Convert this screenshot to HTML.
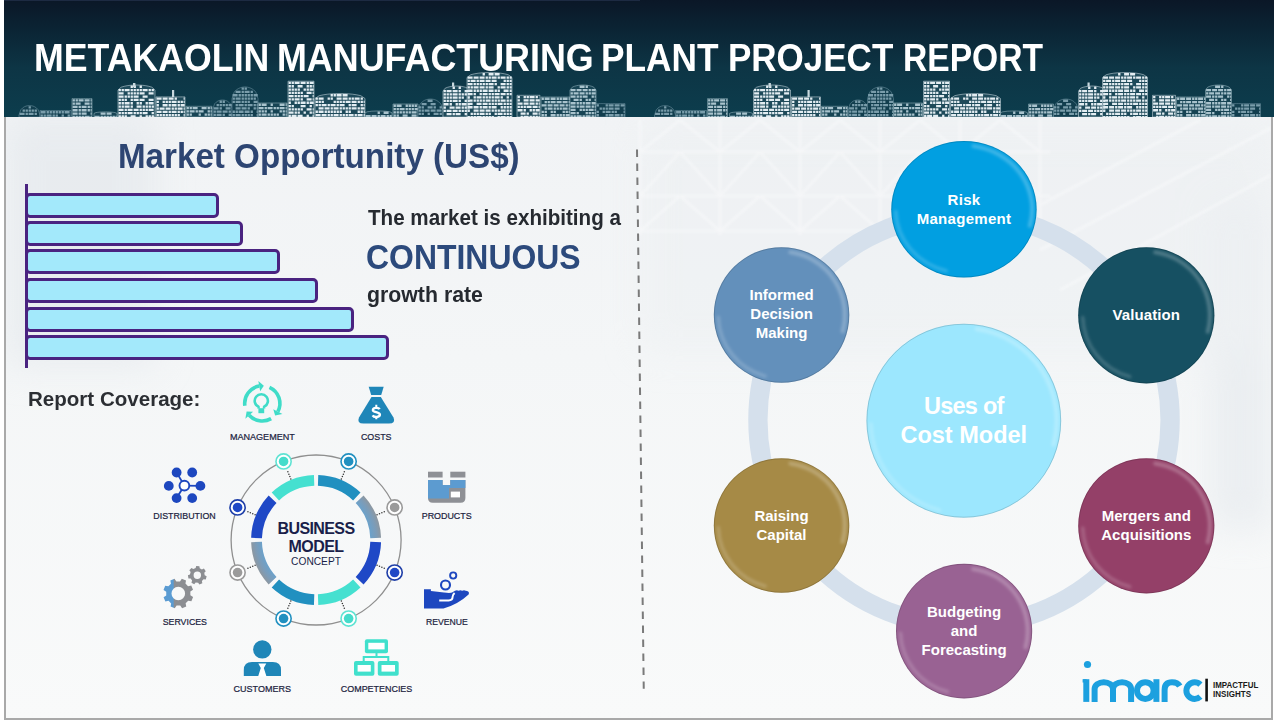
<!DOCTYPE html>
<html><head><meta charset="utf-8">
<style>
*{margin:0;padding:0;box-sizing:border-box}
html,body{width:1280px;height:720px;overflow:hidden;background:#fff;font-family:"Liberation Sans",sans-serif}
.abs{position:absolute}
#content{position:absolute;left:6px;top:117px;width:1265px;height:601px;background:#f3f5f8;overflow:hidden}
#frameL{position:absolute;left:4px;top:117px;width:2px;height:603px;background:#a9a9a9}
#frameR{position:absolute;left:1271px;top:117px;width:2px;height:603px;background:#a9a9a9}
#frameB{position:absolute;left:4px;top:718px;width:1269px;height:2px;background:#a9a9a9}
#header{position:absolute;left:4px;top:0;width:1270px;height:117px;background:linear-gradient(180deg,#0b1727 0%,#0b2434 25%,#0d3545 58%,#0c3d4d 100%);overflow:hidden}
.t{position:absolute;white-space:nowrap;line-height:1;transform-origin:0 0}
.bar{position:absolute;left:25px;height:25px;background:#a3e9fb;border:3px solid #4a2380;border-radius:5px}
.lbl{position:absolute;font-size:9.4px;color:#1e2044;white-space:nowrap;line-height:1;letter-spacing:-0.25px}
.circ{position:absolute;border-radius:50%;box-shadow:inset -3px 3px 3px -1px rgba(255,255,255,0.22), inset 3px -3px 3px -1px rgba(255,255,255,0.16), 0 0 0 0.8px rgba(0,0,0,0.22)}
.ct{position:absolute;color:#fff;font-weight:bold;font-size:15px;line-height:19.2px;text-align:center;white-space:nowrap;transform:translateX(-50%);letter-spacing:0}
</style></head><body>
<div id="content">
<svg class="abs" style="left:0;top:0" width="1265" height="601" viewBox="6 117 1265 601">
  <defs>
    <linearGradient id="bgv" x1="0" y1="117" x2="0" y2="718" gradientUnits="userSpaceOnUse">
      <stop offset="0" stop-color="#f1f3f5"/>
      <stop offset="0.4" stop-color="#f4f6f7"/>
      <stop offset="1" stop-color="#f9fafa"/>
    </linearGradient>
    <filter id="bl" x="-10%" y="-10%" width="120%" height="120%"><feGaussianBlur stdDeviation="0.9"/></filter>
    <filter id="bl2" x="-50%" y="-50%" width="200%" height="200%"><feGaussianBlur stdDeviation="18"/></filter>
  </defs>
  <rect x="6" y="117" width="1265" height="601" fill="url(#bgv)"/>
  <g filter="url(#bl2)" opacity="0.5">
    <rect x="6" y="117" width="150" height="250" fill="#dfe4e9"/>
    <rect x="1210" y="200" width="61" height="330" fill="#e0e5ea"/>
    <rect x="640" y="125" width="630" height="230" fill="#e8ecef" opacity="0.7"/>
  </g>
<g stroke="#fafbfc" stroke-width="2.6" opacity="0.5" filter="url(#bl)"><line x1="640" y1="152" x2="1050" y2="152"/><line x1="640" y1="196" x2="1050" y2="196"/><line x1="640" y1="231" x2="1050" y2="231"/><line x1="640" y1="152" x2="680" y2="120"/><line x1="680" y1="120" x2="720" y2="152"/><line x1="720" y1="152" x2="760" y2="120"/><line x1="760" y1="120" x2="800" y2="152"/><line x1="800" y1="152" x2="840" y2="120"/><line x1="840" y1="120" x2="880" y2="152"/><line x1="880" y1="152" x2="920" y2="120"/><line x1="920" y1="120" x2="960" y2="152"/><line x1="960" y1="152" x2="1000" y2="120"/><line x1="1000" y1="120" x2="1040" y2="152"/><line x1="640" y1="196" x2="680" y2="152"/><line x1="680" y1="152" x2="720" y2="196"/><line x1="720" y1="196" x2="760" y2="152"/><line x1="760" y1="152" x2="800" y2="196"/><line x1="800" y1="196" x2="840" y2="152"/><line x1="840" y1="152" x2="880" y2="196"/><line x1="880" y1="196" x2="920" y2="152"/><line x1="920" y1="152" x2="960" y2="196"/><line x1="960" y1="196" x2="1000" y2="152"/><line x1="1000" y1="152" x2="1040" y2="196"/><line x1="640" y1="231" x2="680" y2="196"/><line x1="680" y1="196" x2="720" y2="231"/><line x1="720" y1="231" x2="760" y2="196"/><line x1="760" y1="196" x2="800" y2="231"/><line x1="800" y1="231" x2="840" y2="196"/><line x1="840" y1="196" x2="880" y2="231"/><line x1="880" y1="231" x2="920" y2="196"/><line x1="920" y1="196" x2="960" y2="231"/><line x1="960" y1="231" x2="1000" y2="196"/><line x1="1000" y1="196" x2="1040" y2="231"/><line x1="640" y1="120" x2="640" y2="235"/><line x1="720" y1="120" x2="720" y2="235"/><line x1="800" y1="120" x2="800" y2="235"/><line x1="880" y1="120" x2="880" y2="235"/><line x1="960" y1="120" x2="960" y2="235"/><line x1="1040" y1="120" x2="1040" y2="235"/><line x1="1040" y1="250" x2="1271" y2="128"/><line x1="1040" y1="205" x2="1200" y2="120"/><line x1="1060" y1="290" x2="1271" y2="175"/></g>
</svg>
</div>
<div id="frameL"></div><div id="frameR"></div><div id="frameB"></div>
<div id="header">
  <svg id="sky" class="abs" style="left:0;top:0" width="1270" height="117" viewBox="4 0 1270 117">
<g id="sk">
<path d="M19,117 L19.0,115.0 L20.8,109.8 L22.5,108.0 L24.2,106.9 L26.0,106.1 L27.8,105.7 L29.5,105.6 L31.2,105.7 L33.0,106.1 L34.8,106.9 L36.5,108.0 L38.2,109.8 L40.0,115.0 L40,117 Z" fill="#123e4e" stroke="#7a9dab" stroke-opacity="0.55" stroke-width="0.9"/>
<path d="M40,117 L40.0,110.5 L42.6,110.5 L45.2,110.5 L47.8,110.5 L50.3,110.5 L52.9,110.5 L55.5,110.5 L58.1,110.5 L60.7,110.5 L63.2,110.5 L65.8,110.5 L68.4,110.5 L71.0,110.5 L71,117 Z" fill="#123e4e" stroke="#7a9dab" stroke-opacity="0.55" stroke-width="0.9"/>
<path d="M72,117 L72.0,98.6 L73.7,98.6 L75.3,98.6 L77.0,98.6 L78.7,98.6 L80.3,98.6 L82.0,98.6 L83.7,98.6 L85.3,98.6 L87.0,98.6 L88.7,98.6 L90.3,98.6 L92.0,98.6 L92,117 Z" fill="#174454" stroke="#a9c3cd" stroke-opacity="0.55" stroke-width="0.9"/>
<path d="M94,117 L94.0,113.4 L95.9,112.6 L97.8,112.3 L99.8,112.1 L101.7,112.0 L103.6,111.9 L105.5,111.9 L107.4,111.9 L109.3,112.0 L111.2,112.1 L113.2,112.3 L115.1,112.6 L117.0,113.4 L117,117 Z" fill="#174454" stroke="#a9c3cd" stroke-opacity="0.55" stroke-width="0.9"/>
<path d="M118,117 L118.0,90.0 L121.1,87.2 L124.2,86.3 L127.2,85.7 L130.3,85.3 L133.4,85.1 L136.5,85.0 L139.6,85.1 L142.7,85.3 L145.8,85.7 L148.8,86.3 L151.9,87.2 L155.0,90.0 L155,117 Z" fill="#1e4a5a" stroke="#e3edf2" stroke-opacity="0.55" stroke-width="0.9"/>
<path d="M156,117 L156.0,96.9 L158.4,96.9 L160.8,96.9 L163.2,96.9 L165.7,96.9 L168.1,96.9 L170.5,96.9 L172.9,96.9 L175.3,96.9 L177.8,96.9 L180.2,96.9 L182.6,96.9 L185.0,96.9 L185,117 Z" fill="#1e4a5a" stroke="#e3edf2" stroke-opacity="0.55" stroke-width="0.9"/>
<path d="M186,117 L186.0,106.3 L188.2,106.3 L190.3,106.3 L192.5,106.3 L194.7,106.3 L196.8,106.3 L199.0,106.3 L201.2,106.3 L203.3,106.3 L205.5,106.3 L207.7,106.3 L209.8,106.3 L212.0,106.3 L212,117 Z" fill="#174454" stroke="#a9c3cd" stroke-opacity="0.55" stroke-width="0.9"/>
<path d="M213,117 L213.0,108.5 L214.6,103.8 L216.2,102.2 L217.8,101.1 L219.3,100.5 L220.9,100.1 L222.5,100.0 L224.1,100.1 L225.7,100.5 L227.2,101.1 L228.8,102.2 L230.4,103.8 L232.0,108.5 L232,117 Z" fill="#123e4e" stroke="#7a9dab" stroke-opacity="0.55" stroke-width="0.9"/>
<path d="M232,117 L232.0,98.6 L234.2,92.1 L236.3,89.9 L238.5,88.5 L240.7,87.6 L242.8,87.1 L245.0,86.9 L247.2,87.1 L249.3,87.6 L251.5,88.5 L253.7,89.9 L255.8,92.1 L258.0,98.6 L258,117 Z" fill="#123e4e" stroke="#7a9dab" stroke-opacity="0.55" stroke-width="0.9"/>
<path d="M258,117 L258.0,103.0 L260.4,103.0 L262.8,103.0 L265.2,103.0 L267.7,103.0 L270.1,103.0 L272.5,103.0 L274.9,103.0 L277.3,103.0 L279.8,103.0 L282.2,103.0 L284.6,103.0 L287.0,103.0 L287,117 Z" fill="#174454" stroke="#a9c3cd" stroke-opacity="0.55" stroke-width="0.9"/>
<path d="M288,117 L288.0,81.2 L290.2,81.2 L292.3,81.2 L294.5,81.2 L296.7,81.2 L298.8,81.2 L301.0,81.2 L303.2,81.2 L305.3,81.2 L307.5,81.2 L309.7,81.2 L311.8,81.2 L314.0,81.2 L314,117 Z" fill="#1e4a5a" stroke="#e3edf2" stroke-opacity="0.55" stroke-width="0.9"/>
<path d="M315,117 L315.0,98.5 L319.2,95.7 L323.3,94.8 L327.5,94.2 L331.7,93.8 L335.8,93.6 L340.0,93.5 L344.2,93.6 L348.3,93.8 L352.5,94.2 L356.7,94.8 L360.8,95.7 L365.0,98.5 L365,117 Z" fill="#1e4a5a" stroke="#e3edf2" stroke-opacity="0.55" stroke-width="0.9"/>
<path d="M365,117 L365.0,112.8 L367.2,111.8 L369.5,111.5 L371.8,111.2 L374.0,111.1 L376.2,111.0 L378.5,111.0 L380.8,111.0 L383.0,111.1 L385.2,111.2 L387.5,111.5 L389.8,111.8 L392.0,112.8 L392,117 Z" fill="#174454" stroke="#a9c3cd" stroke-opacity="0.55" stroke-width="0.9"/>
<path d="M393,117 L393.0,104.0 L395.1,104.0 L397.2,104.0 L399.2,104.0 L401.3,104.0 L403.4,104.0 L405.5,104.0 L407.6,104.0 L409.7,104.0 L411.8,104.0 L413.8,104.0 L415.9,104.0 L418.0,104.0 L418,117 Z" fill="#174454" stroke="#a9c3cd" stroke-opacity="0.55" stroke-width="0.9"/>
<path d="M418,117 L418.0,110.2 L420.1,104.0 L422.2,101.9 L424.2,100.5 L426.3,99.6 L428.4,99.2 L430.5,99.0 L432.6,99.2 L434.7,99.6 L436.8,100.5 L438.8,101.9 L440.9,104.0 L443.0,110.2 L443,117 Z" fill="#123e4e" stroke="#7a9dab" stroke-opacity="0.55" stroke-width="0.9"/>
<path d="M443,117 L443.0,91.0 L445.2,88.2 L447.5,87.3 L449.8,86.7 L452.0,86.3 L454.2,86.1 L456.5,86.0 L458.8,86.1 L461.0,86.3 L463.2,86.7 L465.5,87.3 L467.8,88.2 L470.0,91.0 L470,117 Z" fill="#1e4a5a" stroke="#e3edf2" stroke-opacity="0.55" stroke-width="0.9"/>
<path d="M467,117 L467.0,77.5 L470.8,74.7 L474.5,73.8 L478.2,73.2 L482.0,72.8 L485.8,72.6 L489.5,72.5 L493.2,72.6 L497.0,72.8 L500.8,73.2 L504.5,73.8 L508.2,74.7 L512.0,77.5 L512,117 Z" fill="#1e4a5a" stroke="#e3edf2" stroke-opacity="0.55" stroke-width="0.9"/>
<path d="M517,117 L517.0,95.3 L518.9,95.3 L520.8,95.3 L522.8,95.3 L524.7,95.3 L526.6,95.3 L528.5,95.3 L530.4,95.3 L532.3,95.3 L534.2,95.3 L536.2,95.3 L538.1,95.3 L540.0,95.3 L540,117 Z" fill="#1e4a5a" stroke="#e3edf2" stroke-opacity="0.55" stroke-width="0.9"/>
<path d="M541,117 L541.0,97.0 L543.4,97.0 L545.8,97.0 L548.2,97.0 L550.7,97.0 L553.1,97.0 L555.5,97.0 L557.9,97.0 L560.3,97.0 L562.8,97.0 L565.2,97.0 L567.6,97.0 L570.0,97.0 L570,117 Z" fill="#174454" stroke="#a9c3cd" stroke-opacity="0.55" stroke-width="0.9"/>
<path d="M570,117 L570.0,90.0 L572.2,87.2 L574.3,86.3 L576.5,85.7 L578.7,85.3 L580.8,85.1 L583.0,85.0 L585.2,85.1 L587.3,85.3 L589.5,85.7 L591.7,86.3 L593.8,87.2 L596.0,90.0 L596,117 Z" fill="#174454" stroke="#a9c3cd" stroke-opacity="0.55" stroke-width="0.9"/>
<path d="M596,117 L596.0,103.6 L598.4,103.6 L600.8,103.6 L603.2,103.6 L605.7,103.6 L608.1,103.6 L610.5,103.6 L612.9,103.6 L615.3,103.6 L617.8,103.6 L620.2,103.6 L622.6,103.6 L625.0,103.6 L625,117 Z" fill="#123e4e" stroke="#7a9dab" stroke-opacity="0.55" stroke-width="0.9"/>
<path fill="#7a9dab" d="M28.6,106.2h2.3v2.3h-2.3zM22.6,109.5h2.3v2.3h-2.3zM25.6,109.5h2.3v2.3h-2.3zM28.6,109.5h2.3v2.3h-2.3zM31.6,109.5h2.3v2.3h-2.3zM34.6,109.5h2.3v2.3h-2.3zM19.6,112.8h5.0v2.3h-5.0zM25.6,112.8h2.3v2.3h-2.3zM28.6,112.8h5.0v2.3h-5.0zM34.6,112.8h2.3v2.3h-2.3zM40.6,111.1h5.0v2.3h-5.0zM46.6,111.1h2.3v2.3h-2.3zM49.6,111.1h2.3v2.3h-2.3zM52.6,111.1h2.3v2.3h-2.3zM55.6,111.1h2.3v2.3h-2.3zM58.6,111.1h2.3v2.3h-2.3zM61.6,111.1h2.3v2.3h-2.3zM64.6,111.1h5.0v2.3h-5.0zM40.6,114.4h2.3v2.3h-2.3zM43.6,114.4h2.3v2.3h-2.3zM46.6,114.4h5.0v2.3h-5.0zM52.6,114.4h2.3v2.3h-2.3zM55.6,114.4h2.3v2.3h-2.3zM61.6,114.4h2.3v2.3h-2.3zM67.6,114.4h2.3v2.3h-2.3zM219.6,100.6h2.3v2.3h-2.3zM222.6,100.6h2.3v2.3h-2.3zM216.6,103.9h2.3v2.3h-2.3zM219.6,103.9h2.3v2.3h-2.3zM222.6,103.9h2.3v2.3h-2.3zM225.6,103.9h2.3v2.3h-2.3zM228.6,103.9h3.1v2.3h-3.1zM213.6,107.2h5.0v2.3h-5.0zM219.6,107.2h2.3v2.3h-2.3zM225.6,107.2h5.0v2.3h-5.0zM213.6,110.5h2.3v2.3h-2.3zM216.6,110.5h5.0v2.3h-5.0zM222.6,110.5h5.0v2.3h-5.0zM228.6,110.5h2.3v2.3h-2.3zM213.6,113.8h2.3v2.3h-2.3zM216.6,113.8h5.0v2.3h-5.0zM222.6,113.8h2.3v2.3h-2.3zM228.6,113.8h3.1v2.3h-3.1zM241.6,87.5h2.3v2.3h-2.3zM244.6,87.5h2.3v2.3h-2.3zM235.6,90.8h5.0v2.3h-5.0zM241.6,90.8h2.3v2.3h-2.3zM244.6,90.8h5.0v2.3h-5.0zM250.6,90.8h2.3v2.3h-2.3zM232.6,94.1h5.0v2.3h-5.0zM238.6,94.1h2.3v2.3h-2.3zM241.6,94.1h2.3v2.3h-2.3zM244.6,94.1h2.3v2.3h-2.3zM247.6,94.1h2.3v2.3h-2.3zM250.6,94.1h2.3v2.3h-2.3zM253.6,94.1h4.1v2.3h-4.1zM232.6,97.4h2.3v2.3h-2.3zM235.6,97.4h5.0v2.3h-5.0zM241.6,97.4h2.3v2.3h-2.3zM244.6,97.4h2.3v2.3h-2.3zM247.6,97.4h2.3v2.3h-2.3zM250.6,97.4h2.3v2.3h-2.3zM253.6,97.4h2.3v2.3h-2.3zM232.6,100.7h2.3v2.3h-2.3zM235.6,100.7h5.0v2.3h-5.0zM241.6,100.7h2.3v2.3h-2.3zM244.6,100.7h2.3v2.3h-2.3zM247.6,100.7h2.3v2.3h-2.3zM253.6,100.7h4.1v2.3h-4.1zM235.6,104.0h2.3v2.3h-2.3zM238.6,104.0h5.0v2.3h-5.0zM244.6,104.0h2.3v2.3h-2.3zM247.6,104.0h5.0v2.3h-5.0zM253.6,104.0h2.3v2.3h-2.3zM256.6,104.0h1.1v2.3h-1.1zM235.6,107.3h5.0v2.3h-5.0zM241.6,107.3h5.0v2.3h-5.0zM247.6,107.3h2.3v2.3h-2.3zM253.6,107.3h2.3v2.3h-2.3zM256.6,107.3h1.1v2.3h-1.1zM232.6,110.6h2.3v2.3h-2.3zM235.6,110.6h2.3v2.3h-2.3zM238.6,110.6h5.0v2.3h-5.0zM244.6,110.6h5.0v2.3h-5.0zM250.6,110.6h2.3v2.3h-2.3zM256.6,110.6h1.1v2.3h-1.1zM232.6,113.9h2.3v2.3h-2.3zM235.6,113.9h5.0v2.3h-5.0zM241.6,113.9h2.3v2.3h-2.3zM244.6,113.9h2.3v2.3h-2.3zM247.6,113.9h2.3v2.3h-2.3zM250.6,113.9h2.3v2.3h-2.3zM256.6,113.9h1.1v2.3h-1.1zM427.6,99.6h5.0v2.3h-5.0zM421.6,102.9h5.0v2.3h-5.0zM430.6,102.9h5.0v2.3h-5.0zM418.6,106.2h2.3v2.3h-2.3zM421.6,106.2h2.3v2.3h-2.3zM427.6,106.2h5.0v2.3h-5.0zM433.6,106.2h2.3v2.3h-2.3zM439.6,106.2h2.3v2.3h-2.3zM418.6,109.5h2.3v2.3h-2.3zM421.6,109.5h2.3v2.3h-2.3zM424.6,109.5h5.0v2.3h-5.0zM430.6,109.5h5.0v2.3h-5.0zM436.6,109.5h5.0v2.3h-5.0zM418.6,112.8h2.3v2.3h-2.3zM421.6,112.8h2.3v2.3h-2.3zM427.6,112.8h2.3v2.3h-2.3zM433.6,112.8h5.0v2.3h-5.0zM439.6,112.8h2.3v2.3h-2.3zM596.6,104.2h2.3v2.3h-2.3zM605.6,104.2h2.3v2.3h-2.3zM608.6,104.2h5.0v2.3h-5.0zM614.6,104.2h5.0v2.3h-5.0zM620.6,104.2h4.1v2.3h-4.1zM599.6,107.5h2.3v2.3h-2.3zM602.6,107.5h2.3v2.3h-2.3zM605.6,107.5h2.3v2.3h-2.3zM608.6,107.5h5.0v2.3h-5.0zM614.6,107.5h5.0v2.3h-5.0zM623.6,107.5h1.1v2.3h-1.1zM596.6,110.8h2.3v2.3h-2.3zM602.6,110.8h2.3v2.3h-2.3zM605.6,110.8h5.0v2.3h-5.0zM611.6,110.8h2.3v2.3h-2.3zM614.6,110.8h2.3v2.3h-2.3zM623.6,110.8h1.1v2.3h-1.1zM596.6,114.1h2.3v2.3h-2.3zM605.6,114.1h2.3v2.3h-2.3zM608.6,114.1h5.0v2.3h-5.0zM614.6,114.1h5.0v2.3h-5.0zM620.6,114.1h2.3v2.3h-2.3zM623.6,114.1h1.1v2.3h-1.1z"/>
<path fill="#a9c3cd" d="M72.6,99.2h2.3v2.3h-2.3zM75.6,99.2h2.3v2.3h-2.3zM78.6,99.2h5.0v2.3h-5.0zM84.6,99.2h5.0v2.3h-5.0zM90.6,99.2h1.1v2.3h-1.1zM72.6,102.5h2.3v2.3h-2.3zM75.6,102.5h5.0v2.3h-5.0zM84.6,102.5h5.0v2.3h-5.0zM90.6,102.5h1.1v2.3h-1.1zM72.6,105.8h5.0v2.3h-5.0zM78.6,105.8h2.3v2.3h-2.3zM81.6,105.8h5.0v2.3h-5.0zM87.6,105.8h2.3v2.3h-2.3zM90.6,105.8h1.1v2.3h-1.1zM72.6,109.1h5.0v2.3h-5.0zM78.6,109.1h2.3v2.3h-2.3zM81.6,109.1h5.0v2.3h-5.0zM87.6,109.1h2.3v2.3h-2.3zM90.6,109.1h1.1v2.3h-1.1zM72.6,112.4h5.0v2.3h-5.0zM78.6,112.4h2.3v2.3h-2.3zM81.6,112.4h5.0v2.3h-5.0zM90.6,112.4h1.1v2.3h-1.1zM72.6,115.7h2.3v2.3h-2.3zM75.6,115.7h2.3v2.3h-2.3zM78.6,115.7h2.3v2.3h-2.3zM81.6,115.7h2.3v2.3h-2.3zM84.6,115.7h5.0v2.3h-5.0zM90.6,115.7h1.1v2.3h-1.1zM100.6,112.5h5.0v2.3h-5.0zM106.6,112.5h5.0v2.3h-5.0zM94.6,115.8h5.0v2.3h-5.0zM100.6,115.8h2.3v2.3h-2.3zM103.6,115.8h2.3v2.3h-2.3zM106.6,115.8h2.3v2.3h-2.3zM109.6,115.8h2.3v2.3h-2.3zM112.6,115.8h2.3v2.3h-2.3zM115.6,115.8h1.1v2.3h-1.1zM186.6,106.9h2.3v2.3h-2.3zM189.6,106.9h2.3v2.3h-2.3zM192.6,106.9h5.0v2.3h-5.0zM201.6,106.9h5.0v2.3h-5.0zM207.6,106.9h2.3v2.3h-2.3zM210.6,106.9h1.1v2.3h-1.1zM186.6,110.2h2.3v2.3h-2.3zM189.6,110.2h5.0v2.3h-5.0zM195.6,110.2h2.3v2.3h-2.3zM198.6,110.2h5.0v2.3h-5.0zM207.6,110.2h2.3v2.3h-2.3zM210.6,110.2h1.1v2.3h-1.1zM186.6,113.5h2.3v2.3h-2.3zM189.6,113.5h2.3v2.3h-2.3zM198.6,113.5h2.3v2.3h-2.3zM204.6,113.5h2.3v2.3h-2.3zM207.6,113.5h2.3v2.3h-2.3zM210.6,113.5h1.1v2.3h-1.1zM258.6,103.6h2.3v2.3h-2.3zM261.6,103.6h5.0v2.3h-5.0zM270.6,103.6h2.3v2.3h-2.3zM279.6,103.6h5.0v2.3h-5.0zM285.6,103.6h1.1v2.3h-1.1zM258.6,106.9h5.0v2.3h-5.0zM264.6,106.9h2.3v2.3h-2.3zM267.6,106.9h5.0v2.3h-5.0zM273.6,106.9h2.3v2.3h-2.3zM276.6,106.9h2.3v2.3h-2.3zM279.6,106.9h5.0v2.3h-5.0zM285.6,106.9h1.1v2.3h-1.1zM258.6,110.2h2.3v2.3h-2.3zM261.6,110.2h2.3v2.3h-2.3zM264.6,110.2h2.3v2.3h-2.3zM270.6,110.2h2.3v2.3h-2.3zM279.6,110.2h2.3v2.3h-2.3zM282.6,110.2h2.3v2.3h-2.3zM285.6,110.2h1.1v2.3h-1.1zM258.6,113.5h2.3v2.3h-2.3zM261.6,113.5h5.0v2.3h-5.0zM267.6,113.5h2.3v2.3h-2.3zM270.6,113.5h2.3v2.3h-2.3zM273.6,113.5h2.3v2.3h-2.3zM276.6,113.5h2.3v2.3h-2.3zM282.6,113.5h2.3v2.3h-2.3zM285.6,113.5h1.1v2.3h-1.1zM377.6,111.6h2.3v2.3h-2.3zM383.6,111.6h5.0v2.3h-5.0zM365.6,114.9h5.0v2.3h-5.0zM371.6,114.9h5.0v2.3h-5.0zM377.6,114.9h2.3v2.3h-2.3zM380.6,114.9h5.0v2.3h-5.0zM386.6,114.9h2.3v2.3h-2.3zM389.6,114.9h2.1v2.3h-2.1zM393.6,104.6h2.3v2.3h-2.3zM396.6,104.6h5.0v2.3h-5.0zM405.6,104.6h2.3v2.3h-2.3zM408.6,104.6h2.3v2.3h-2.3zM411.6,104.6h2.3v2.3h-2.3zM414.6,104.6h2.3v2.3h-2.3zM393.6,107.9h2.3v2.3h-2.3zM396.6,107.9h2.3v2.3h-2.3zM399.6,107.9h5.0v2.3h-5.0zM405.6,107.9h2.3v2.3h-2.3zM408.6,107.9h2.3v2.3h-2.3zM411.6,107.9h2.3v2.3h-2.3zM414.6,107.9h3.1v2.3h-3.1zM393.6,111.2h2.3v2.3h-2.3zM396.6,111.2h2.3v2.3h-2.3zM399.6,111.2h2.3v2.3h-2.3zM402.6,111.2h2.3v2.3h-2.3zM405.6,111.2h2.3v2.3h-2.3zM408.6,111.2h2.3v2.3h-2.3zM411.6,111.2h5.0v2.3h-5.0zM393.6,114.5h2.3v2.3h-2.3zM396.6,114.5h2.3v2.3h-2.3zM402.6,114.5h5.0v2.3h-5.0zM411.6,114.5h5.0v2.3h-5.0zM541.6,97.6h2.3v2.3h-2.3zM544.6,97.6h5.0v2.3h-5.0zM550.6,97.6h5.0v2.3h-5.0zM556.6,97.6h2.3v2.3h-2.3zM559.6,97.6h2.3v2.3h-2.3zM562.6,97.6h5.0v2.3h-5.0zM568.6,97.6h1.1v2.3h-1.1zM544.6,100.9h2.3v2.3h-2.3zM547.6,100.9h2.3v2.3h-2.3zM550.6,100.9h5.0v2.3h-5.0zM556.6,100.9h5.0v2.3h-5.0zM562.6,100.9h5.0v2.3h-5.0zM568.6,100.9h1.1v2.3h-1.1zM541.6,104.2h5.0v2.3h-5.0zM547.6,104.2h5.0v2.3h-5.0zM553.6,104.2h5.0v2.3h-5.0zM559.6,104.2h5.0v2.3h-5.0zM565.6,104.2h2.3v2.3h-2.3zM568.6,104.2h1.1v2.3h-1.1zM544.6,107.5h2.3v2.3h-2.3zM547.6,107.5h5.0v2.3h-5.0zM553.6,107.5h2.3v2.3h-2.3zM556.6,107.5h2.3v2.3h-2.3zM559.6,107.5h2.3v2.3h-2.3zM562.6,107.5h5.0v2.3h-5.0zM568.6,107.5h1.1v2.3h-1.1zM541.6,110.8h2.3v2.3h-2.3zM544.6,110.8h2.3v2.3h-2.3zM550.6,110.8h2.3v2.3h-2.3zM553.6,110.8h2.3v2.3h-2.3zM562.6,110.8h2.3v2.3h-2.3zM565.6,110.8h2.3v2.3h-2.3zM568.6,110.8h1.1v2.3h-1.1zM541.6,114.1h2.3v2.3h-2.3zM544.6,114.1h2.3v2.3h-2.3zM550.6,114.1h5.0v2.3h-5.0zM556.6,114.1h2.3v2.3h-2.3zM559.6,114.1h2.3v2.3h-2.3zM562.6,114.1h2.3v2.3h-2.3zM565.6,114.1h4.1v2.3h-4.1zM579.6,85.6h5.0v2.3h-5.0zM585.6,85.6h2.3v2.3h-2.3zM570.6,88.9h5.0v2.3h-5.0zM576.6,88.9h5.0v2.3h-5.0zM582.6,88.9h5.0v2.3h-5.0zM588.6,88.9h2.3v2.3h-2.3zM591.6,88.9h4.1v2.3h-4.1zM570.6,92.2h2.3v2.3h-2.3zM573.6,92.2h5.0v2.3h-5.0zM579.6,92.2h5.0v2.3h-5.0zM585.6,92.2h2.3v2.3h-2.3zM588.6,92.2h2.3v2.3h-2.3zM591.6,92.2h4.1v2.3h-4.1zM570.6,95.5h5.0v2.3h-5.0zM576.6,95.5h2.3v2.3h-2.3zM579.6,95.5h2.3v2.3h-2.3zM582.6,95.5h5.0v2.3h-5.0zM591.6,95.5h2.3v2.3h-2.3zM594.6,95.5h1.1v2.3h-1.1zM573.6,98.8h5.0v2.3h-5.0zM579.6,98.8h2.3v2.3h-2.3zM585.6,98.8h2.3v2.3h-2.3zM588.6,98.8h2.3v2.3h-2.3zM594.6,98.8h1.1v2.3h-1.1zM570.6,102.1h5.0v2.3h-5.0zM576.6,102.1h2.3v2.3h-2.3zM579.6,102.1h2.3v2.3h-2.3zM582.6,102.1h2.3v2.3h-2.3zM585.6,102.1h5.0v2.3h-5.0zM591.6,102.1h4.1v2.3h-4.1zM570.6,105.4h5.0v2.3h-5.0zM576.6,105.4h2.3v2.3h-2.3zM579.6,105.4h5.0v2.3h-5.0zM585.6,105.4h5.0v2.3h-5.0zM591.6,105.4h2.3v2.3h-2.3zM594.6,105.4h1.1v2.3h-1.1zM570.6,108.7h5.0v2.3h-5.0zM579.6,108.7h2.3v2.3h-2.3zM582.6,108.7h2.3v2.3h-2.3zM585.6,108.7h2.3v2.3h-2.3zM588.6,108.7h5.0v2.3h-5.0zM594.6,108.7h1.1v2.3h-1.1zM570.6,112.0h5.0v2.3h-5.0zM576.6,112.0h2.3v2.3h-2.3zM585.6,112.0h2.3v2.3h-2.3zM588.6,112.0h2.3v2.3h-2.3zM591.6,112.0h2.3v2.3h-2.3zM594.6,112.0h1.1v2.3h-1.1zM570.6,115.3h2.3v2.3h-2.3zM573.6,115.3h2.3v2.3h-2.3zM576.6,115.3h5.0v2.3h-5.0zM582.6,115.3h2.3v2.3h-2.3zM585.6,115.3h5.0v2.3h-5.0zM591.6,115.3h2.3v2.3h-2.3zM594.6,115.3h1.1v2.3h-1.1z"/>
<path fill="#e3edf2" d="M130.6,85.6h2.3v2.3h-2.3zM133.6,85.6h2.3v2.3h-2.3zM139.6,85.6h2.3v2.3h-2.3zM118.6,88.9h2.3v2.3h-2.3zM121.6,88.9h2.3v2.3h-2.3zM124.6,88.9h5.0v2.3h-5.0zM130.6,88.9h2.3v2.3h-2.3zM133.6,88.9h2.3v2.3h-2.3zM136.6,88.9h2.3v2.3h-2.3zM139.6,88.9h2.3v2.3h-2.3zM142.6,88.9h5.0v2.3h-5.0zM148.6,88.9h2.3v2.3h-2.3zM151.6,88.9h2.3v2.3h-2.3zM118.6,92.2h5.0v2.3h-5.0zM127.6,92.2h2.3v2.3h-2.3zM130.6,92.2h2.3v2.3h-2.3zM133.6,92.2h2.3v2.3h-2.3zM136.6,92.2h2.3v2.3h-2.3zM139.6,92.2h5.0v2.3h-5.0zM148.6,92.2h5.0v2.3h-5.0zM118.6,95.5h5.0v2.3h-5.0zM124.6,95.5h2.3v2.3h-2.3zM127.6,95.5h2.3v2.3h-2.3zM130.6,95.5h2.3v2.3h-2.3zM133.6,95.5h5.0v2.3h-5.0zM142.6,95.5h5.0v2.3h-5.0zM118.6,98.8h2.3v2.3h-2.3zM121.6,98.8h2.3v2.3h-2.3zM124.6,98.8h2.3v2.3h-2.3zM130.6,98.8h2.3v2.3h-2.3zM133.6,98.8h5.0v2.3h-5.0zM139.6,98.8h5.0v2.3h-5.0zM148.6,98.8h5.0v2.3h-5.0zM118.6,102.1h2.3v2.3h-2.3zM121.6,102.1h2.3v2.3h-2.3zM124.6,102.1h5.0v2.3h-5.0zM130.6,102.1h2.3v2.3h-2.3zM136.6,102.1h2.3v2.3h-2.3zM139.6,102.1h2.3v2.3h-2.3zM145.6,102.1h2.3v2.3h-2.3zM148.6,102.1h5.0v2.3h-5.0zM118.6,105.4h2.3v2.3h-2.3zM121.6,105.4h2.3v2.3h-2.3zM124.6,105.4h5.0v2.3h-5.0zM130.6,105.4h2.3v2.3h-2.3zM136.6,105.4h5.0v2.3h-5.0zM142.6,105.4h2.3v2.3h-2.3zM145.6,105.4h2.3v2.3h-2.3zM148.6,105.4h2.3v2.3h-2.3zM151.6,105.4h2.3v2.3h-2.3zM118.6,108.7h5.0v2.3h-5.0zM124.6,108.7h2.3v2.3h-2.3zM127.6,108.7h5.0v2.3h-5.0zM133.6,108.7h5.0v2.3h-5.0zM139.6,108.7h2.3v2.3h-2.3zM142.6,108.7h2.3v2.3h-2.3zM145.6,108.7h2.3v2.3h-2.3zM148.6,108.7h5.0v2.3h-5.0zM118.6,112.0h2.3v2.3h-2.3zM121.6,112.0h2.3v2.3h-2.3zM124.6,112.0h2.3v2.3h-2.3zM127.6,112.0h5.0v2.3h-5.0zM133.6,112.0h2.3v2.3h-2.3zM136.6,112.0h2.3v2.3h-2.3zM139.6,112.0h2.3v2.3h-2.3zM142.6,112.0h5.0v2.3h-5.0zM151.6,112.0h2.3v2.3h-2.3zM118.6,115.3h2.3v2.3h-2.3zM121.6,115.3h2.3v2.3h-2.3zM124.6,115.3h2.3v2.3h-2.3zM130.6,115.3h5.0v2.3h-5.0zM139.6,115.3h2.3v2.3h-2.3zM145.6,115.3h2.3v2.3h-2.3zM148.6,115.3h2.3v2.3h-2.3zM151.6,115.3h2.3v2.3h-2.3zM156.6,97.5h5.0v2.3h-5.0zM162.6,97.5h5.0v2.3h-5.0zM168.6,97.5h5.0v2.3h-5.0zM174.6,97.5h2.3v2.3h-2.3zM183.6,97.5h1.1v2.3h-1.1zM156.6,100.8h2.3v2.3h-2.3zM162.6,100.8h2.3v2.3h-2.3zM165.6,100.8h2.3v2.3h-2.3zM168.6,100.8h2.3v2.3h-2.3zM171.6,100.8h5.0v2.3h-5.0zM177.6,100.8h2.3v2.3h-2.3zM180.6,100.8h2.3v2.3h-2.3zM183.6,100.8h1.1v2.3h-1.1zM156.6,104.1h2.3v2.3h-2.3zM162.6,104.1h5.0v2.3h-5.0zM168.6,104.1h2.3v2.3h-2.3zM171.6,104.1h5.0v2.3h-5.0zM177.6,104.1h2.3v2.3h-2.3zM180.6,104.1h4.1v2.3h-4.1zM156.6,107.4h2.3v2.3h-2.3zM159.6,107.4h5.0v2.3h-5.0zM165.6,107.4h5.0v2.3h-5.0zM171.6,107.4h2.3v2.3h-2.3zM174.6,107.4h2.3v2.3h-2.3zM177.6,107.4h5.0v2.3h-5.0zM183.6,107.4h1.1v2.3h-1.1zM156.6,110.7h5.0v2.3h-5.0zM162.6,110.7h5.0v2.3h-5.0zM168.6,110.7h2.3v2.3h-2.3zM171.6,110.7h5.0v2.3h-5.0zM177.6,110.7h2.3v2.3h-2.3zM180.6,110.7h2.3v2.3h-2.3zM183.6,110.7h1.1v2.3h-1.1zM156.6,114.0h2.3v2.3h-2.3zM159.6,114.0h2.3v2.3h-2.3zM162.6,114.0h2.3v2.3h-2.3zM165.6,114.0h2.3v2.3h-2.3zM168.6,114.0h2.3v2.3h-2.3zM171.6,114.0h2.3v2.3h-2.3zM174.6,114.0h2.3v2.3h-2.3zM177.6,114.0h2.3v2.3h-2.3zM183.6,114.0h1.1v2.3h-1.1zM288.6,81.8h2.3v2.3h-2.3zM291.6,81.8h2.3v2.3h-2.3zM294.6,81.8h5.0v2.3h-5.0zM300.6,81.8h5.0v2.3h-5.0zM306.6,81.8h2.3v2.3h-2.3zM309.6,81.8h4.1v2.3h-4.1zM288.6,85.1h2.3v2.3h-2.3zM291.6,85.1h2.3v2.3h-2.3zM297.6,85.1h5.0v2.3h-5.0zM306.6,85.1h2.3v2.3h-2.3zM309.6,85.1h2.3v2.3h-2.3zM312.6,85.1h1.1v2.3h-1.1zM288.6,88.4h2.3v2.3h-2.3zM291.6,88.4h2.3v2.3h-2.3zM294.6,88.4h2.3v2.3h-2.3zM297.6,88.4h2.3v2.3h-2.3zM303.6,88.4h2.3v2.3h-2.3zM306.6,88.4h2.3v2.3h-2.3zM309.6,88.4h4.1v2.3h-4.1zM288.6,91.7h2.3v2.3h-2.3zM291.6,91.7h2.3v2.3h-2.3zM294.6,91.7h2.3v2.3h-2.3zM297.6,91.7h2.3v2.3h-2.3zM300.6,91.7h2.3v2.3h-2.3zM306.6,91.7h5.0v2.3h-5.0zM312.6,91.7h1.1v2.3h-1.1zM288.6,95.0h5.0v2.3h-5.0zM294.6,95.0h2.3v2.3h-2.3zM297.6,95.0h2.3v2.3h-2.3zM300.6,95.0h2.3v2.3h-2.3zM303.6,95.0h5.0v2.3h-5.0zM312.6,95.0h1.1v2.3h-1.1zM288.6,98.3h2.3v2.3h-2.3zM291.6,98.3h2.3v2.3h-2.3zM294.6,98.3h5.0v2.3h-5.0zM300.6,98.3h2.3v2.3h-2.3zM306.6,98.3h5.0v2.3h-5.0zM312.6,98.3h1.1v2.3h-1.1zM288.6,101.6h2.3v2.3h-2.3zM294.6,101.6h2.3v2.3h-2.3zM297.6,101.6h2.3v2.3h-2.3zM300.6,101.6h5.0v2.3h-5.0zM306.6,101.6h2.3v2.3h-2.3zM309.6,101.6h4.1v2.3h-4.1zM288.6,104.9h2.3v2.3h-2.3zM291.6,104.9h2.3v2.3h-2.3zM300.6,104.9h5.0v2.3h-5.0zM309.6,104.9h2.3v2.3h-2.3zM288.6,108.2h2.3v2.3h-2.3zM291.6,108.2h2.3v2.3h-2.3zM294.6,108.2h2.3v2.3h-2.3zM297.6,108.2h2.3v2.3h-2.3zM300.6,108.2h2.3v2.3h-2.3zM306.6,108.2h5.0v2.3h-5.0zM312.6,108.2h1.1v2.3h-1.1zM288.6,111.5h5.0v2.3h-5.0zM294.6,111.5h2.3v2.3h-2.3zM297.6,111.5h2.3v2.3h-2.3zM303.6,111.5h2.3v2.3h-2.3zM309.6,111.5h2.3v2.3h-2.3zM312.6,111.5h1.1v2.3h-1.1zM288.6,114.8h2.3v2.3h-2.3zM291.6,114.8h5.0v2.3h-5.0zM297.6,114.8h5.0v2.3h-5.0zM306.6,114.8h2.3v2.3h-2.3zM312.6,114.8h1.1v2.3h-1.1zM330.6,94.1h2.3v2.3h-2.3zM333.6,94.1h2.3v2.3h-2.3zM336.6,94.1h5.0v2.3h-5.0zM342.6,94.1h5.0v2.3h-5.0zM315.6,97.4h2.3v2.3h-2.3zM318.6,97.4h5.0v2.3h-5.0zM327.6,97.4h2.3v2.3h-2.3zM330.6,97.4h2.3v2.3h-2.3zM336.6,97.4h5.0v2.3h-5.0zM342.6,97.4h5.0v2.3h-5.0zM348.6,97.4h2.3v2.3h-2.3zM351.6,97.4h2.3v2.3h-2.3zM354.6,97.4h5.0v2.3h-5.0zM360.6,97.4h2.3v2.3h-2.3zM315.6,100.7h2.3v2.3h-2.3zM318.6,100.7h2.3v2.3h-2.3zM321.6,100.7h2.3v2.3h-2.3zM333.6,100.7h2.3v2.3h-2.3zM336.6,100.7h2.3v2.3h-2.3zM339.6,100.7h2.3v2.3h-2.3zM342.6,100.7h2.3v2.3h-2.3zM345.6,100.7h5.0v2.3h-5.0zM351.6,100.7h5.0v2.3h-5.0zM357.6,100.7h2.3v2.3h-2.3zM360.6,100.7h2.3v2.3h-2.3zM363.6,100.7h1.1v2.3h-1.1zM315.6,104.0h2.3v2.3h-2.3zM318.6,104.0h2.3v2.3h-2.3zM321.6,104.0h5.0v2.3h-5.0zM327.6,104.0h2.3v2.3h-2.3zM330.6,104.0h5.0v2.3h-5.0zM336.6,104.0h2.3v2.3h-2.3zM339.6,104.0h5.0v2.3h-5.0zM348.6,104.0h2.3v2.3h-2.3zM351.6,104.0h5.0v2.3h-5.0zM360.6,104.0h2.3v2.3h-2.3zM363.6,104.0h1.1v2.3h-1.1zM318.6,107.3h5.0v2.3h-5.0zM324.6,107.3h5.0v2.3h-5.0zM330.6,107.3h2.3v2.3h-2.3zM333.6,107.3h5.0v2.3h-5.0zM339.6,107.3h2.3v2.3h-2.3zM342.6,107.3h2.3v2.3h-2.3zM345.6,107.3h2.3v2.3h-2.3zM348.6,107.3h2.3v2.3h-2.3zM351.6,107.3h5.0v2.3h-5.0zM357.6,107.3h2.3v2.3h-2.3zM360.6,107.3h4.1v2.3h-4.1zM315.6,110.6h2.3v2.3h-2.3zM318.6,110.6h5.0v2.3h-5.0zM324.6,110.6h2.3v2.3h-2.3zM327.6,110.6h2.3v2.3h-2.3zM330.6,110.6h2.3v2.3h-2.3zM333.6,110.6h2.3v2.3h-2.3zM336.6,110.6h2.3v2.3h-2.3zM339.6,110.6h2.3v2.3h-2.3zM345.6,110.6h2.3v2.3h-2.3zM348.6,110.6h2.3v2.3h-2.3zM357.6,110.6h2.3v2.3h-2.3zM360.6,110.6h2.3v2.3h-2.3zM363.6,110.6h1.1v2.3h-1.1zM315.6,113.9h5.0v2.3h-5.0zM321.6,113.9h5.0v2.3h-5.0zM327.6,113.9h2.3v2.3h-2.3zM330.6,113.9h2.3v2.3h-2.3zM333.6,113.9h5.0v2.3h-5.0zM339.6,113.9h2.3v2.3h-2.3zM342.6,113.9h2.3v2.3h-2.3zM345.6,113.9h2.3v2.3h-2.3zM348.6,113.9h5.0v2.3h-5.0zM354.6,113.9h2.3v2.3h-2.3zM357.6,113.9h5.0v2.3h-5.0zM363.6,113.9h1.1v2.3h-1.1zM452.6,86.6h2.3v2.3h-2.3zM458.6,86.6h2.3v2.3h-2.3zM443.6,89.9h2.3v2.3h-2.3zM446.6,89.9h5.0v2.3h-5.0zM452.6,89.9h5.0v2.3h-5.0zM458.6,89.9h2.3v2.3h-2.3zM464.6,89.9h5.0v2.3h-5.0zM443.6,93.2h2.3v2.3h-2.3zM446.6,93.2h2.3v2.3h-2.3zM449.6,93.2h2.3v2.3h-2.3zM452.6,93.2h5.0v2.3h-5.0zM458.6,93.2h2.3v2.3h-2.3zM461.6,93.2h2.3v2.3h-2.3zM464.6,93.2h2.3v2.3h-2.3zM467.6,93.2h2.1v2.3h-2.1zM443.6,96.5h2.3v2.3h-2.3zM446.6,96.5h2.3v2.3h-2.3zM449.6,96.5h2.3v2.3h-2.3zM452.6,96.5h5.0v2.3h-5.0zM458.6,96.5h2.3v2.3h-2.3zM461.6,96.5h2.3v2.3h-2.3zM467.6,96.5h2.1v2.3h-2.1zM443.6,99.8h2.3v2.3h-2.3zM446.6,99.8h2.3v2.3h-2.3zM449.6,99.8h2.3v2.3h-2.3zM452.6,99.8h5.0v2.3h-5.0zM458.6,99.8h2.3v2.3h-2.3zM464.6,99.8h2.3v2.3h-2.3zM467.6,99.8h2.1v2.3h-2.1zM443.6,103.1h5.0v2.3h-5.0zM449.6,103.1h2.3v2.3h-2.3zM455.6,103.1h2.3v2.3h-2.3zM458.6,103.1h2.3v2.3h-2.3zM461.6,103.1h5.0v2.3h-5.0zM467.6,103.1h2.1v2.3h-2.1zM443.6,106.4h2.3v2.3h-2.3zM449.6,106.4h5.0v2.3h-5.0zM455.6,106.4h5.0v2.3h-5.0zM461.6,106.4h2.3v2.3h-2.3zM464.6,106.4h2.3v2.3h-2.3zM467.6,106.4h2.1v2.3h-2.1zM443.6,109.7h2.3v2.3h-2.3zM446.6,109.7h5.0v2.3h-5.0zM452.6,109.7h5.0v2.3h-5.0zM458.6,109.7h2.3v2.3h-2.3zM461.6,109.7h2.3v2.3h-2.3zM464.6,109.7h2.3v2.3h-2.3zM467.6,109.7h2.1v2.3h-2.1zM446.6,113.0h5.0v2.3h-5.0zM452.6,113.0h2.3v2.3h-2.3zM455.6,113.0h5.0v2.3h-5.0zM464.6,113.0h2.3v2.3h-2.3zM482.6,73.1h2.3v2.3h-2.3zM488.6,73.1h5.0v2.3h-5.0zM494.6,73.1h5.0v2.3h-5.0zM467.6,76.4h5.0v2.3h-5.0zM473.6,76.4h5.0v2.3h-5.0zM479.6,76.4h5.0v2.3h-5.0zM485.6,76.4h2.3v2.3h-2.3zM488.6,76.4h2.3v2.3h-2.3zM491.6,76.4h5.0v2.3h-5.0zM497.6,76.4h2.3v2.3h-2.3zM500.6,76.4h5.0v2.3h-5.0zM506.6,76.4h2.3v2.3h-2.3zM509.6,76.4h2.1v2.3h-2.1zM467.6,79.7h2.3v2.3h-2.3zM470.6,79.7h5.0v2.3h-5.0zM476.6,79.7h2.3v2.3h-2.3zM479.6,79.7h5.0v2.3h-5.0zM485.6,79.7h5.0v2.3h-5.0zM491.6,79.7h5.0v2.3h-5.0zM503.6,79.7h2.3v2.3h-2.3zM506.6,79.7h2.3v2.3h-2.3zM509.6,79.7h2.1v2.3h-2.1zM467.6,83.0h5.0v2.3h-5.0zM473.6,83.0h2.3v2.3h-2.3zM476.6,83.0h2.3v2.3h-2.3zM479.6,83.0h2.3v2.3h-2.3zM482.6,83.0h2.3v2.3h-2.3zM485.6,83.0h2.3v2.3h-2.3zM488.6,83.0h5.0v2.3h-5.0zM494.6,83.0h2.3v2.3h-2.3zM500.6,83.0h5.0v2.3h-5.0zM506.6,83.0h2.3v2.3h-2.3zM509.6,83.0h2.1v2.3h-2.1zM467.6,86.3h2.3v2.3h-2.3zM470.6,86.3h2.3v2.3h-2.3zM473.6,86.3h5.0v2.3h-5.0zM479.6,86.3h5.0v2.3h-5.0zM485.6,86.3h2.3v2.3h-2.3zM488.6,86.3h5.0v2.3h-5.0zM497.6,86.3h2.3v2.3h-2.3zM500.6,86.3h5.0v2.3h-5.0zM506.6,86.3h2.3v2.3h-2.3zM509.6,86.3h2.1v2.3h-2.1zM467.6,89.6h5.0v2.3h-5.0zM473.6,89.6h2.3v2.3h-2.3zM476.6,89.6h2.3v2.3h-2.3zM479.6,89.6h2.3v2.3h-2.3zM482.6,89.6h5.0v2.3h-5.0zM488.6,89.6h5.0v2.3h-5.0zM494.6,89.6h2.3v2.3h-2.3zM497.6,89.6h2.3v2.3h-2.3zM503.6,89.6h5.0v2.3h-5.0zM509.6,89.6h2.1v2.3h-2.1zM467.6,92.9h5.0v2.3h-5.0zM473.6,92.9h2.3v2.3h-2.3zM479.6,92.9h2.3v2.3h-2.3zM482.6,92.9h5.0v2.3h-5.0zM488.6,92.9h2.3v2.3h-2.3zM491.6,92.9h2.3v2.3h-2.3zM494.6,92.9h5.0v2.3h-5.0zM500.6,92.9h5.0v2.3h-5.0zM506.6,92.9h2.3v2.3h-2.3zM509.6,92.9h2.1v2.3h-2.1zM467.6,96.2h2.3v2.3h-2.3zM473.6,96.2h2.3v2.3h-2.3zM476.6,96.2h5.0v2.3h-5.0zM482.6,96.2h2.3v2.3h-2.3zM485.6,96.2h2.3v2.3h-2.3zM488.6,96.2h2.3v2.3h-2.3zM491.6,96.2h2.3v2.3h-2.3zM494.6,96.2h5.0v2.3h-5.0zM500.6,96.2h2.3v2.3h-2.3zM506.6,96.2h2.3v2.3h-2.3zM467.6,99.5h5.0v2.3h-5.0zM473.6,99.5h2.3v2.3h-2.3zM476.6,99.5h2.3v2.3h-2.3zM479.6,99.5h2.3v2.3h-2.3zM482.6,99.5h2.3v2.3h-2.3zM485.6,99.5h5.0v2.3h-5.0zM491.6,99.5h2.3v2.3h-2.3zM494.6,99.5h2.3v2.3h-2.3zM497.6,99.5h2.3v2.3h-2.3zM500.6,99.5h5.0v2.3h-5.0zM506.6,99.5h2.3v2.3h-2.3zM509.6,99.5h2.1v2.3h-2.1zM467.6,102.8h5.0v2.3h-5.0zM476.6,102.8h5.0v2.3h-5.0zM482.6,102.8h5.0v2.3h-5.0zM488.6,102.8h2.3v2.3h-2.3zM491.6,102.8h2.3v2.3h-2.3zM494.6,102.8h2.3v2.3h-2.3zM497.6,102.8h5.0v2.3h-5.0zM503.6,102.8h2.3v2.3h-2.3zM506.6,102.8h2.3v2.3h-2.3zM509.6,102.8h2.1v2.3h-2.1zM467.6,106.1h5.0v2.3h-5.0zM473.6,106.1h5.0v2.3h-5.0zM479.6,106.1h2.3v2.3h-2.3zM482.6,106.1h5.0v2.3h-5.0zM488.6,106.1h2.3v2.3h-2.3zM491.6,106.1h5.0v2.3h-5.0zM500.6,106.1h2.3v2.3h-2.3zM503.6,106.1h2.3v2.3h-2.3zM506.6,106.1h2.3v2.3h-2.3zM509.6,106.1h2.1v2.3h-2.1zM467.6,109.4h2.3v2.3h-2.3zM473.6,109.4h5.0v2.3h-5.0zM479.6,109.4h5.0v2.3h-5.0zM485.6,109.4h5.0v2.3h-5.0zM491.6,109.4h2.3v2.3h-2.3zM494.6,109.4h2.3v2.3h-2.3zM497.6,109.4h2.3v2.3h-2.3zM500.6,109.4h5.0v2.3h-5.0zM506.6,109.4h2.3v2.3h-2.3zM509.6,109.4h2.1v2.3h-2.1zM470.6,112.7h2.3v2.3h-2.3zM473.6,112.7h2.3v2.3h-2.3zM476.6,112.7h2.3v2.3h-2.3zM479.6,112.7h5.0v2.3h-5.0zM485.6,112.7h2.3v2.3h-2.3zM488.6,112.7h2.3v2.3h-2.3zM494.6,112.7h2.3v2.3h-2.3zM497.6,112.7h5.0v2.3h-5.0zM503.6,112.7h2.3v2.3h-2.3zM506.6,112.7h2.3v2.3h-2.3zM509.6,112.7h2.1v2.3h-2.1zM467.6,116.0h2.3v2.3h-2.3zM470.6,116.0h2.3v2.3h-2.3zM473.6,116.0h2.3v2.3h-2.3zM476.6,116.0h5.0v2.3h-5.0zM482.6,116.0h2.3v2.3h-2.3zM485.6,116.0h2.3v2.3h-2.3zM488.6,116.0h2.3v2.3h-2.3zM491.6,116.0h2.3v2.3h-2.3zM497.6,116.0h2.3v2.3h-2.3zM500.6,116.0h5.0v2.3h-5.0zM506.6,116.0h2.3v2.3h-2.3zM509.6,116.0h2.1v2.3h-2.1zM517.6,95.9h2.3v2.3h-2.3zM523.6,95.9h2.3v2.3h-2.3zM526.6,95.9h2.3v2.3h-2.3zM529.6,95.9h5.0v2.3h-5.0zM535.6,95.9h2.3v2.3h-2.3zM517.6,99.2h2.3v2.3h-2.3zM523.6,99.2h5.0v2.3h-5.0zM529.6,99.2h5.0v2.3h-5.0zM535.6,99.2h4.1v2.3h-4.1zM517.6,102.5h5.0v2.3h-5.0zM523.6,102.5h5.0v2.3h-5.0zM529.6,102.5h5.0v2.3h-5.0zM535.6,102.5h2.3v2.3h-2.3zM538.6,102.5h1.1v2.3h-1.1zM517.6,105.8h2.3v2.3h-2.3zM520.6,105.8h2.3v2.3h-2.3zM523.6,105.8h2.3v2.3h-2.3zM526.6,105.8h5.0v2.3h-5.0zM532.6,105.8h5.0v2.3h-5.0zM538.6,105.8h1.1v2.3h-1.1zM517.6,109.1h5.0v2.3h-5.0zM523.6,109.1h2.3v2.3h-2.3zM529.6,109.1h2.3v2.3h-2.3zM532.6,109.1h2.3v2.3h-2.3zM535.6,109.1h4.1v2.3h-4.1zM520.6,112.4h5.0v2.3h-5.0zM526.6,112.4h2.3v2.3h-2.3zM532.6,112.4h5.0v2.3h-5.0zM538.6,112.4h1.1v2.3h-1.1zM520.6,115.7h2.3v2.3h-2.3zM523.6,115.7h5.0v2.3h-5.0zM529.6,115.7h2.3v2.3h-2.3zM532.6,115.7h2.3v2.3h-2.3zM535.6,115.7h2.3v2.3h-2.3zM538.6,115.7h1.1v2.3h-1.1z"/>
<rect x="133" y="83" width="2.4" height="4" fill="#c8d8de"/><rect x="172" y="90" width="2.2" height="7" fill="#c8d8de"/><rect x="452" y="82.5" width="2.2" height="4" fill="#c8d8de"/>
</g>
<g transform="translate(635.5,0)"><path d="M19,117 L19.0,115.0 L20.8,109.8 L22.5,108.0 L24.2,106.9 L26.0,106.1 L27.8,105.7 L29.5,105.6 L31.2,105.7 L33.0,106.1 L34.8,106.9 L36.5,108.0 L38.2,109.8 L40.0,115.0 L40,117 Z" fill="#123e4e" stroke="#7a9dab" stroke-opacity="0.55" stroke-width="0.9"/>
<path d="M40,117 L40.0,110.5 L42.6,110.5 L45.2,110.5 L47.8,110.5 L50.3,110.5 L52.9,110.5 L55.5,110.5 L58.1,110.5 L60.7,110.5 L63.2,110.5 L65.8,110.5 L68.4,110.5 L71.0,110.5 L71,117 Z" fill="#123e4e" stroke="#7a9dab" stroke-opacity="0.55" stroke-width="0.9"/>
<path d="M72,117 L72.0,98.6 L73.7,98.6 L75.3,98.6 L77.0,98.6 L78.7,98.6 L80.3,98.6 L82.0,98.6 L83.7,98.6 L85.3,98.6 L87.0,98.6 L88.7,98.6 L90.3,98.6 L92.0,98.6 L92,117 Z" fill="#174454" stroke="#a9c3cd" stroke-opacity="0.55" stroke-width="0.9"/>
<path d="M94,117 L94.0,113.4 L95.9,112.6 L97.8,112.3 L99.8,112.1 L101.7,112.0 L103.6,111.9 L105.5,111.9 L107.4,111.9 L109.3,112.0 L111.2,112.1 L113.2,112.3 L115.1,112.6 L117.0,113.4 L117,117 Z" fill="#174454" stroke="#a9c3cd" stroke-opacity="0.55" stroke-width="0.9"/>
<path d="M118,117 L118.0,90.0 L121.1,87.2 L124.2,86.3 L127.2,85.7 L130.3,85.3 L133.4,85.1 L136.5,85.0 L139.6,85.1 L142.7,85.3 L145.8,85.7 L148.8,86.3 L151.9,87.2 L155.0,90.0 L155,117 Z" fill="#1e4a5a" stroke="#e3edf2" stroke-opacity="0.55" stroke-width="0.9"/>
<path d="M156,117 L156.0,96.9 L158.4,96.9 L160.8,96.9 L163.2,96.9 L165.7,96.9 L168.1,96.9 L170.5,96.9 L172.9,96.9 L175.3,96.9 L177.8,96.9 L180.2,96.9 L182.6,96.9 L185.0,96.9 L185,117 Z" fill="#1e4a5a" stroke="#e3edf2" stroke-opacity="0.55" stroke-width="0.9"/>
<path d="M186,117 L186.0,106.3 L188.2,106.3 L190.3,106.3 L192.5,106.3 L194.7,106.3 L196.8,106.3 L199.0,106.3 L201.2,106.3 L203.3,106.3 L205.5,106.3 L207.7,106.3 L209.8,106.3 L212.0,106.3 L212,117 Z" fill="#174454" stroke="#a9c3cd" stroke-opacity="0.55" stroke-width="0.9"/>
<path d="M213,117 L213.0,108.5 L214.6,103.8 L216.2,102.2 L217.8,101.1 L219.3,100.5 L220.9,100.1 L222.5,100.0 L224.1,100.1 L225.7,100.5 L227.2,101.1 L228.8,102.2 L230.4,103.8 L232.0,108.5 L232,117 Z" fill="#123e4e" stroke="#7a9dab" stroke-opacity="0.55" stroke-width="0.9"/>
<path d="M232,117 L232.0,98.6 L234.2,92.1 L236.3,89.9 L238.5,88.5 L240.7,87.6 L242.8,87.1 L245.0,86.9 L247.2,87.1 L249.3,87.6 L251.5,88.5 L253.7,89.9 L255.8,92.1 L258.0,98.6 L258,117 Z" fill="#123e4e" stroke="#7a9dab" stroke-opacity="0.55" stroke-width="0.9"/>
<path d="M258,117 L258.0,103.0 L260.4,103.0 L262.8,103.0 L265.2,103.0 L267.7,103.0 L270.1,103.0 L272.5,103.0 L274.9,103.0 L277.3,103.0 L279.8,103.0 L282.2,103.0 L284.6,103.0 L287.0,103.0 L287,117 Z" fill="#174454" stroke="#a9c3cd" stroke-opacity="0.55" stroke-width="0.9"/>
<path d="M288,117 L288.0,81.2 L290.2,81.2 L292.3,81.2 L294.5,81.2 L296.7,81.2 L298.8,81.2 L301.0,81.2 L303.2,81.2 L305.3,81.2 L307.5,81.2 L309.7,81.2 L311.8,81.2 L314.0,81.2 L314,117 Z" fill="#1e4a5a" stroke="#e3edf2" stroke-opacity="0.55" stroke-width="0.9"/>
<path d="M315,117 L315.0,98.5 L319.2,95.7 L323.3,94.8 L327.5,94.2 L331.7,93.8 L335.8,93.6 L340.0,93.5 L344.2,93.6 L348.3,93.8 L352.5,94.2 L356.7,94.8 L360.8,95.7 L365.0,98.5 L365,117 Z" fill="#1e4a5a" stroke="#e3edf2" stroke-opacity="0.55" stroke-width="0.9"/>
<path d="M365,117 L365.0,112.8 L367.2,111.8 L369.5,111.5 L371.8,111.2 L374.0,111.1 L376.2,111.0 L378.5,111.0 L380.8,111.0 L383.0,111.1 L385.2,111.2 L387.5,111.5 L389.8,111.8 L392.0,112.8 L392,117 Z" fill="#174454" stroke="#a9c3cd" stroke-opacity="0.55" stroke-width="0.9"/>
<path d="M393,117 L393.0,104.0 L395.1,104.0 L397.2,104.0 L399.2,104.0 L401.3,104.0 L403.4,104.0 L405.5,104.0 L407.6,104.0 L409.7,104.0 L411.8,104.0 L413.8,104.0 L415.9,104.0 L418.0,104.0 L418,117 Z" fill="#174454" stroke="#a9c3cd" stroke-opacity="0.55" stroke-width="0.9"/>
<path d="M418,117 L418.0,110.2 L420.1,104.0 L422.2,101.9 L424.2,100.5 L426.3,99.6 L428.4,99.2 L430.5,99.0 L432.6,99.2 L434.7,99.6 L436.8,100.5 L438.8,101.9 L440.9,104.0 L443.0,110.2 L443,117 Z" fill="#123e4e" stroke="#7a9dab" stroke-opacity="0.55" stroke-width="0.9"/>
<path d="M443,117 L443.0,91.0 L445.2,88.2 L447.5,87.3 L449.8,86.7 L452.0,86.3 L454.2,86.1 L456.5,86.0 L458.8,86.1 L461.0,86.3 L463.2,86.7 L465.5,87.3 L467.8,88.2 L470.0,91.0 L470,117 Z" fill="#1e4a5a" stroke="#e3edf2" stroke-opacity="0.55" stroke-width="0.9"/>
<path d="M467,117 L467.0,77.5 L470.8,74.7 L474.5,73.8 L478.2,73.2 L482.0,72.8 L485.8,72.6 L489.5,72.5 L493.2,72.6 L497.0,72.8 L500.8,73.2 L504.5,73.8 L508.2,74.7 L512.0,77.5 L512,117 Z" fill="#1e4a5a" stroke="#e3edf2" stroke-opacity="0.55" stroke-width="0.9"/>
<path d="M517,117 L517.0,95.3 L518.9,95.3 L520.8,95.3 L522.8,95.3 L524.7,95.3 L526.6,95.3 L528.5,95.3 L530.4,95.3 L532.3,95.3 L534.2,95.3 L536.2,95.3 L538.1,95.3 L540.0,95.3 L540,117 Z" fill="#1e4a5a" stroke="#e3edf2" stroke-opacity="0.55" stroke-width="0.9"/>
<path d="M541,117 L541.0,97.0 L543.4,97.0 L545.8,97.0 L548.2,97.0 L550.7,97.0 L553.1,97.0 L555.5,97.0 L557.9,97.0 L560.3,97.0 L562.8,97.0 L565.2,97.0 L567.6,97.0 L570.0,97.0 L570,117 Z" fill="#174454" stroke="#a9c3cd" stroke-opacity="0.55" stroke-width="0.9"/>
<path d="M570,117 L570.0,90.0 L572.2,87.2 L574.3,86.3 L576.5,85.7 L578.7,85.3 L580.8,85.1 L583.0,85.0 L585.2,85.1 L587.3,85.3 L589.5,85.7 L591.7,86.3 L593.8,87.2 L596.0,90.0 L596,117 Z" fill="#174454" stroke="#a9c3cd" stroke-opacity="0.55" stroke-width="0.9"/>
<path d="M596,117 L596.0,103.6 L598.4,103.6 L600.8,103.6 L603.2,103.6 L605.7,103.6 L608.1,103.6 L610.5,103.6 L612.9,103.6 L615.3,103.6 L617.8,103.6 L620.2,103.6 L622.6,103.6 L625.0,103.6 L625,117 Z" fill="#123e4e" stroke="#7a9dab" stroke-opacity="0.55" stroke-width="0.9"/>
<path fill="#7a9dab" d="M28.6,106.2h2.3v2.3h-2.3zM22.6,109.5h2.3v2.3h-2.3zM25.6,109.5h2.3v2.3h-2.3zM28.6,109.5h2.3v2.3h-2.3zM31.6,109.5h2.3v2.3h-2.3zM34.6,109.5h2.3v2.3h-2.3zM19.6,112.8h5.0v2.3h-5.0zM25.6,112.8h2.3v2.3h-2.3zM28.6,112.8h5.0v2.3h-5.0zM34.6,112.8h2.3v2.3h-2.3zM40.6,111.1h5.0v2.3h-5.0zM46.6,111.1h2.3v2.3h-2.3zM49.6,111.1h2.3v2.3h-2.3zM52.6,111.1h2.3v2.3h-2.3zM55.6,111.1h2.3v2.3h-2.3zM58.6,111.1h2.3v2.3h-2.3zM61.6,111.1h2.3v2.3h-2.3zM64.6,111.1h5.0v2.3h-5.0zM40.6,114.4h2.3v2.3h-2.3zM43.6,114.4h2.3v2.3h-2.3zM46.6,114.4h5.0v2.3h-5.0zM52.6,114.4h2.3v2.3h-2.3zM55.6,114.4h2.3v2.3h-2.3zM61.6,114.4h2.3v2.3h-2.3zM67.6,114.4h2.3v2.3h-2.3zM219.6,100.6h2.3v2.3h-2.3zM222.6,100.6h2.3v2.3h-2.3zM216.6,103.9h2.3v2.3h-2.3zM219.6,103.9h2.3v2.3h-2.3zM222.6,103.9h2.3v2.3h-2.3zM225.6,103.9h2.3v2.3h-2.3zM228.6,103.9h3.1v2.3h-3.1zM213.6,107.2h5.0v2.3h-5.0zM219.6,107.2h2.3v2.3h-2.3zM225.6,107.2h5.0v2.3h-5.0zM213.6,110.5h2.3v2.3h-2.3zM216.6,110.5h5.0v2.3h-5.0zM222.6,110.5h5.0v2.3h-5.0zM228.6,110.5h2.3v2.3h-2.3zM213.6,113.8h2.3v2.3h-2.3zM216.6,113.8h5.0v2.3h-5.0zM222.6,113.8h2.3v2.3h-2.3zM228.6,113.8h3.1v2.3h-3.1zM241.6,87.5h2.3v2.3h-2.3zM244.6,87.5h2.3v2.3h-2.3zM235.6,90.8h5.0v2.3h-5.0zM241.6,90.8h2.3v2.3h-2.3zM244.6,90.8h5.0v2.3h-5.0zM250.6,90.8h2.3v2.3h-2.3zM232.6,94.1h5.0v2.3h-5.0zM238.6,94.1h2.3v2.3h-2.3zM241.6,94.1h2.3v2.3h-2.3zM244.6,94.1h2.3v2.3h-2.3zM247.6,94.1h2.3v2.3h-2.3zM250.6,94.1h2.3v2.3h-2.3zM253.6,94.1h4.1v2.3h-4.1zM232.6,97.4h2.3v2.3h-2.3zM235.6,97.4h5.0v2.3h-5.0zM241.6,97.4h2.3v2.3h-2.3zM244.6,97.4h2.3v2.3h-2.3zM247.6,97.4h2.3v2.3h-2.3zM250.6,97.4h2.3v2.3h-2.3zM253.6,97.4h2.3v2.3h-2.3zM232.6,100.7h2.3v2.3h-2.3zM235.6,100.7h5.0v2.3h-5.0zM241.6,100.7h2.3v2.3h-2.3zM244.6,100.7h2.3v2.3h-2.3zM247.6,100.7h2.3v2.3h-2.3zM253.6,100.7h4.1v2.3h-4.1zM235.6,104.0h2.3v2.3h-2.3zM238.6,104.0h5.0v2.3h-5.0zM244.6,104.0h2.3v2.3h-2.3zM247.6,104.0h5.0v2.3h-5.0zM253.6,104.0h2.3v2.3h-2.3zM256.6,104.0h1.1v2.3h-1.1zM235.6,107.3h5.0v2.3h-5.0zM241.6,107.3h5.0v2.3h-5.0zM247.6,107.3h2.3v2.3h-2.3zM253.6,107.3h2.3v2.3h-2.3zM256.6,107.3h1.1v2.3h-1.1zM232.6,110.6h2.3v2.3h-2.3zM235.6,110.6h2.3v2.3h-2.3zM238.6,110.6h5.0v2.3h-5.0zM244.6,110.6h5.0v2.3h-5.0zM250.6,110.6h2.3v2.3h-2.3zM256.6,110.6h1.1v2.3h-1.1zM232.6,113.9h2.3v2.3h-2.3zM235.6,113.9h5.0v2.3h-5.0zM241.6,113.9h2.3v2.3h-2.3zM244.6,113.9h2.3v2.3h-2.3zM247.6,113.9h2.3v2.3h-2.3zM250.6,113.9h2.3v2.3h-2.3zM256.6,113.9h1.1v2.3h-1.1zM427.6,99.6h5.0v2.3h-5.0zM421.6,102.9h5.0v2.3h-5.0zM430.6,102.9h5.0v2.3h-5.0zM418.6,106.2h2.3v2.3h-2.3zM421.6,106.2h2.3v2.3h-2.3zM427.6,106.2h5.0v2.3h-5.0zM433.6,106.2h2.3v2.3h-2.3zM439.6,106.2h2.3v2.3h-2.3zM418.6,109.5h2.3v2.3h-2.3zM421.6,109.5h2.3v2.3h-2.3zM424.6,109.5h5.0v2.3h-5.0zM430.6,109.5h5.0v2.3h-5.0zM436.6,109.5h5.0v2.3h-5.0zM418.6,112.8h2.3v2.3h-2.3zM421.6,112.8h2.3v2.3h-2.3zM427.6,112.8h2.3v2.3h-2.3zM433.6,112.8h5.0v2.3h-5.0zM439.6,112.8h2.3v2.3h-2.3zM596.6,104.2h2.3v2.3h-2.3zM605.6,104.2h2.3v2.3h-2.3zM608.6,104.2h5.0v2.3h-5.0zM614.6,104.2h5.0v2.3h-5.0zM620.6,104.2h4.1v2.3h-4.1zM599.6,107.5h2.3v2.3h-2.3zM602.6,107.5h2.3v2.3h-2.3zM605.6,107.5h2.3v2.3h-2.3zM608.6,107.5h5.0v2.3h-5.0zM614.6,107.5h5.0v2.3h-5.0zM623.6,107.5h1.1v2.3h-1.1zM596.6,110.8h2.3v2.3h-2.3zM602.6,110.8h2.3v2.3h-2.3zM605.6,110.8h5.0v2.3h-5.0zM611.6,110.8h2.3v2.3h-2.3zM614.6,110.8h2.3v2.3h-2.3zM623.6,110.8h1.1v2.3h-1.1zM596.6,114.1h2.3v2.3h-2.3zM605.6,114.1h2.3v2.3h-2.3zM608.6,114.1h5.0v2.3h-5.0zM614.6,114.1h5.0v2.3h-5.0zM620.6,114.1h2.3v2.3h-2.3zM623.6,114.1h1.1v2.3h-1.1z"/>
<path fill="#a9c3cd" d="M72.6,99.2h2.3v2.3h-2.3zM75.6,99.2h2.3v2.3h-2.3zM78.6,99.2h5.0v2.3h-5.0zM84.6,99.2h5.0v2.3h-5.0zM90.6,99.2h1.1v2.3h-1.1zM72.6,102.5h2.3v2.3h-2.3zM75.6,102.5h5.0v2.3h-5.0zM84.6,102.5h5.0v2.3h-5.0zM90.6,102.5h1.1v2.3h-1.1zM72.6,105.8h5.0v2.3h-5.0zM78.6,105.8h2.3v2.3h-2.3zM81.6,105.8h5.0v2.3h-5.0zM87.6,105.8h2.3v2.3h-2.3zM90.6,105.8h1.1v2.3h-1.1zM72.6,109.1h5.0v2.3h-5.0zM78.6,109.1h2.3v2.3h-2.3zM81.6,109.1h5.0v2.3h-5.0zM87.6,109.1h2.3v2.3h-2.3zM90.6,109.1h1.1v2.3h-1.1zM72.6,112.4h5.0v2.3h-5.0zM78.6,112.4h2.3v2.3h-2.3zM81.6,112.4h5.0v2.3h-5.0zM90.6,112.4h1.1v2.3h-1.1zM72.6,115.7h2.3v2.3h-2.3zM75.6,115.7h2.3v2.3h-2.3zM78.6,115.7h2.3v2.3h-2.3zM81.6,115.7h2.3v2.3h-2.3zM84.6,115.7h5.0v2.3h-5.0zM90.6,115.7h1.1v2.3h-1.1zM100.6,112.5h5.0v2.3h-5.0zM106.6,112.5h5.0v2.3h-5.0zM94.6,115.8h5.0v2.3h-5.0zM100.6,115.8h2.3v2.3h-2.3zM103.6,115.8h2.3v2.3h-2.3zM106.6,115.8h2.3v2.3h-2.3zM109.6,115.8h2.3v2.3h-2.3zM112.6,115.8h2.3v2.3h-2.3zM115.6,115.8h1.1v2.3h-1.1zM186.6,106.9h2.3v2.3h-2.3zM189.6,106.9h2.3v2.3h-2.3zM192.6,106.9h5.0v2.3h-5.0zM201.6,106.9h5.0v2.3h-5.0zM207.6,106.9h2.3v2.3h-2.3zM210.6,106.9h1.1v2.3h-1.1zM186.6,110.2h2.3v2.3h-2.3zM189.6,110.2h5.0v2.3h-5.0zM195.6,110.2h2.3v2.3h-2.3zM198.6,110.2h5.0v2.3h-5.0zM207.6,110.2h2.3v2.3h-2.3zM210.6,110.2h1.1v2.3h-1.1zM186.6,113.5h2.3v2.3h-2.3zM189.6,113.5h2.3v2.3h-2.3zM198.6,113.5h2.3v2.3h-2.3zM204.6,113.5h2.3v2.3h-2.3zM207.6,113.5h2.3v2.3h-2.3zM210.6,113.5h1.1v2.3h-1.1zM258.6,103.6h2.3v2.3h-2.3zM261.6,103.6h5.0v2.3h-5.0zM270.6,103.6h2.3v2.3h-2.3zM279.6,103.6h5.0v2.3h-5.0zM285.6,103.6h1.1v2.3h-1.1zM258.6,106.9h5.0v2.3h-5.0zM264.6,106.9h2.3v2.3h-2.3zM267.6,106.9h5.0v2.3h-5.0zM273.6,106.9h2.3v2.3h-2.3zM276.6,106.9h2.3v2.3h-2.3zM279.6,106.9h5.0v2.3h-5.0zM285.6,106.9h1.1v2.3h-1.1zM258.6,110.2h2.3v2.3h-2.3zM261.6,110.2h2.3v2.3h-2.3zM264.6,110.2h2.3v2.3h-2.3zM270.6,110.2h2.3v2.3h-2.3zM279.6,110.2h2.3v2.3h-2.3zM282.6,110.2h2.3v2.3h-2.3zM285.6,110.2h1.1v2.3h-1.1zM258.6,113.5h2.3v2.3h-2.3zM261.6,113.5h5.0v2.3h-5.0zM267.6,113.5h2.3v2.3h-2.3zM270.6,113.5h2.3v2.3h-2.3zM273.6,113.5h2.3v2.3h-2.3zM276.6,113.5h2.3v2.3h-2.3zM282.6,113.5h2.3v2.3h-2.3zM285.6,113.5h1.1v2.3h-1.1zM377.6,111.6h2.3v2.3h-2.3zM383.6,111.6h5.0v2.3h-5.0zM365.6,114.9h5.0v2.3h-5.0zM371.6,114.9h5.0v2.3h-5.0zM377.6,114.9h2.3v2.3h-2.3zM380.6,114.9h5.0v2.3h-5.0zM386.6,114.9h2.3v2.3h-2.3zM389.6,114.9h2.1v2.3h-2.1zM393.6,104.6h2.3v2.3h-2.3zM396.6,104.6h5.0v2.3h-5.0zM405.6,104.6h2.3v2.3h-2.3zM408.6,104.6h2.3v2.3h-2.3zM411.6,104.6h2.3v2.3h-2.3zM414.6,104.6h2.3v2.3h-2.3zM393.6,107.9h2.3v2.3h-2.3zM396.6,107.9h2.3v2.3h-2.3zM399.6,107.9h5.0v2.3h-5.0zM405.6,107.9h2.3v2.3h-2.3zM408.6,107.9h2.3v2.3h-2.3zM411.6,107.9h2.3v2.3h-2.3zM414.6,107.9h3.1v2.3h-3.1zM393.6,111.2h2.3v2.3h-2.3zM396.6,111.2h2.3v2.3h-2.3zM399.6,111.2h2.3v2.3h-2.3zM402.6,111.2h2.3v2.3h-2.3zM405.6,111.2h2.3v2.3h-2.3zM408.6,111.2h2.3v2.3h-2.3zM411.6,111.2h5.0v2.3h-5.0zM393.6,114.5h2.3v2.3h-2.3zM396.6,114.5h2.3v2.3h-2.3zM402.6,114.5h5.0v2.3h-5.0zM411.6,114.5h5.0v2.3h-5.0zM541.6,97.6h2.3v2.3h-2.3zM544.6,97.6h5.0v2.3h-5.0zM550.6,97.6h5.0v2.3h-5.0zM556.6,97.6h2.3v2.3h-2.3zM559.6,97.6h2.3v2.3h-2.3zM562.6,97.6h5.0v2.3h-5.0zM568.6,97.6h1.1v2.3h-1.1zM544.6,100.9h2.3v2.3h-2.3zM547.6,100.9h2.3v2.3h-2.3zM550.6,100.9h5.0v2.3h-5.0zM556.6,100.9h5.0v2.3h-5.0zM562.6,100.9h5.0v2.3h-5.0zM568.6,100.9h1.1v2.3h-1.1zM541.6,104.2h5.0v2.3h-5.0zM547.6,104.2h5.0v2.3h-5.0zM553.6,104.2h5.0v2.3h-5.0zM559.6,104.2h5.0v2.3h-5.0zM565.6,104.2h2.3v2.3h-2.3zM568.6,104.2h1.1v2.3h-1.1zM544.6,107.5h2.3v2.3h-2.3zM547.6,107.5h5.0v2.3h-5.0zM553.6,107.5h2.3v2.3h-2.3zM556.6,107.5h2.3v2.3h-2.3zM559.6,107.5h2.3v2.3h-2.3zM562.6,107.5h5.0v2.3h-5.0zM568.6,107.5h1.1v2.3h-1.1zM541.6,110.8h2.3v2.3h-2.3zM544.6,110.8h2.3v2.3h-2.3zM550.6,110.8h2.3v2.3h-2.3zM553.6,110.8h2.3v2.3h-2.3zM562.6,110.8h2.3v2.3h-2.3zM565.6,110.8h2.3v2.3h-2.3zM568.6,110.8h1.1v2.3h-1.1zM541.6,114.1h2.3v2.3h-2.3zM544.6,114.1h2.3v2.3h-2.3zM550.6,114.1h5.0v2.3h-5.0zM556.6,114.1h2.3v2.3h-2.3zM559.6,114.1h2.3v2.3h-2.3zM562.6,114.1h2.3v2.3h-2.3zM565.6,114.1h4.1v2.3h-4.1zM579.6,85.6h5.0v2.3h-5.0zM585.6,85.6h2.3v2.3h-2.3zM570.6,88.9h5.0v2.3h-5.0zM576.6,88.9h5.0v2.3h-5.0zM582.6,88.9h5.0v2.3h-5.0zM588.6,88.9h2.3v2.3h-2.3zM591.6,88.9h4.1v2.3h-4.1zM570.6,92.2h2.3v2.3h-2.3zM573.6,92.2h5.0v2.3h-5.0zM579.6,92.2h5.0v2.3h-5.0zM585.6,92.2h2.3v2.3h-2.3zM588.6,92.2h2.3v2.3h-2.3zM591.6,92.2h4.1v2.3h-4.1zM570.6,95.5h5.0v2.3h-5.0zM576.6,95.5h2.3v2.3h-2.3zM579.6,95.5h2.3v2.3h-2.3zM582.6,95.5h5.0v2.3h-5.0zM591.6,95.5h2.3v2.3h-2.3zM594.6,95.5h1.1v2.3h-1.1zM573.6,98.8h5.0v2.3h-5.0zM579.6,98.8h2.3v2.3h-2.3zM585.6,98.8h2.3v2.3h-2.3zM588.6,98.8h2.3v2.3h-2.3zM594.6,98.8h1.1v2.3h-1.1zM570.6,102.1h5.0v2.3h-5.0zM576.6,102.1h2.3v2.3h-2.3zM579.6,102.1h2.3v2.3h-2.3zM582.6,102.1h2.3v2.3h-2.3zM585.6,102.1h5.0v2.3h-5.0zM591.6,102.1h4.1v2.3h-4.1zM570.6,105.4h5.0v2.3h-5.0zM576.6,105.4h2.3v2.3h-2.3zM579.6,105.4h5.0v2.3h-5.0zM585.6,105.4h5.0v2.3h-5.0zM591.6,105.4h2.3v2.3h-2.3zM594.6,105.4h1.1v2.3h-1.1zM570.6,108.7h5.0v2.3h-5.0zM579.6,108.7h2.3v2.3h-2.3zM582.6,108.7h2.3v2.3h-2.3zM585.6,108.7h2.3v2.3h-2.3zM588.6,108.7h5.0v2.3h-5.0zM594.6,108.7h1.1v2.3h-1.1zM570.6,112.0h5.0v2.3h-5.0zM576.6,112.0h2.3v2.3h-2.3zM585.6,112.0h2.3v2.3h-2.3zM588.6,112.0h2.3v2.3h-2.3zM591.6,112.0h2.3v2.3h-2.3zM594.6,112.0h1.1v2.3h-1.1zM570.6,115.3h2.3v2.3h-2.3zM573.6,115.3h2.3v2.3h-2.3zM576.6,115.3h5.0v2.3h-5.0zM582.6,115.3h2.3v2.3h-2.3zM585.6,115.3h5.0v2.3h-5.0zM591.6,115.3h2.3v2.3h-2.3zM594.6,115.3h1.1v2.3h-1.1z"/>
<path fill="#e3edf2" d="M130.6,85.6h2.3v2.3h-2.3zM133.6,85.6h2.3v2.3h-2.3zM139.6,85.6h2.3v2.3h-2.3zM118.6,88.9h2.3v2.3h-2.3zM121.6,88.9h2.3v2.3h-2.3zM124.6,88.9h5.0v2.3h-5.0zM130.6,88.9h2.3v2.3h-2.3zM133.6,88.9h2.3v2.3h-2.3zM136.6,88.9h2.3v2.3h-2.3zM139.6,88.9h2.3v2.3h-2.3zM142.6,88.9h5.0v2.3h-5.0zM148.6,88.9h2.3v2.3h-2.3zM151.6,88.9h2.3v2.3h-2.3zM118.6,92.2h5.0v2.3h-5.0zM127.6,92.2h2.3v2.3h-2.3zM130.6,92.2h2.3v2.3h-2.3zM133.6,92.2h2.3v2.3h-2.3zM136.6,92.2h2.3v2.3h-2.3zM139.6,92.2h5.0v2.3h-5.0zM148.6,92.2h5.0v2.3h-5.0zM118.6,95.5h5.0v2.3h-5.0zM124.6,95.5h2.3v2.3h-2.3zM127.6,95.5h2.3v2.3h-2.3zM130.6,95.5h2.3v2.3h-2.3zM133.6,95.5h5.0v2.3h-5.0zM142.6,95.5h5.0v2.3h-5.0zM118.6,98.8h2.3v2.3h-2.3zM121.6,98.8h2.3v2.3h-2.3zM124.6,98.8h2.3v2.3h-2.3zM130.6,98.8h2.3v2.3h-2.3zM133.6,98.8h5.0v2.3h-5.0zM139.6,98.8h5.0v2.3h-5.0zM148.6,98.8h5.0v2.3h-5.0zM118.6,102.1h2.3v2.3h-2.3zM121.6,102.1h2.3v2.3h-2.3zM124.6,102.1h5.0v2.3h-5.0zM130.6,102.1h2.3v2.3h-2.3zM136.6,102.1h2.3v2.3h-2.3zM139.6,102.1h2.3v2.3h-2.3zM145.6,102.1h2.3v2.3h-2.3zM148.6,102.1h5.0v2.3h-5.0zM118.6,105.4h2.3v2.3h-2.3zM121.6,105.4h2.3v2.3h-2.3zM124.6,105.4h5.0v2.3h-5.0zM130.6,105.4h2.3v2.3h-2.3zM136.6,105.4h5.0v2.3h-5.0zM142.6,105.4h2.3v2.3h-2.3zM145.6,105.4h2.3v2.3h-2.3zM148.6,105.4h2.3v2.3h-2.3zM151.6,105.4h2.3v2.3h-2.3zM118.6,108.7h5.0v2.3h-5.0zM124.6,108.7h2.3v2.3h-2.3zM127.6,108.7h5.0v2.3h-5.0zM133.6,108.7h5.0v2.3h-5.0zM139.6,108.7h2.3v2.3h-2.3zM142.6,108.7h2.3v2.3h-2.3zM145.6,108.7h2.3v2.3h-2.3zM148.6,108.7h5.0v2.3h-5.0zM118.6,112.0h2.3v2.3h-2.3zM121.6,112.0h2.3v2.3h-2.3zM124.6,112.0h2.3v2.3h-2.3zM127.6,112.0h5.0v2.3h-5.0zM133.6,112.0h2.3v2.3h-2.3zM136.6,112.0h2.3v2.3h-2.3zM139.6,112.0h2.3v2.3h-2.3zM142.6,112.0h5.0v2.3h-5.0zM151.6,112.0h2.3v2.3h-2.3zM118.6,115.3h2.3v2.3h-2.3zM121.6,115.3h2.3v2.3h-2.3zM124.6,115.3h2.3v2.3h-2.3zM130.6,115.3h5.0v2.3h-5.0zM139.6,115.3h2.3v2.3h-2.3zM145.6,115.3h2.3v2.3h-2.3zM148.6,115.3h2.3v2.3h-2.3zM151.6,115.3h2.3v2.3h-2.3zM156.6,97.5h5.0v2.3h-5.0zM162.6,97.5h5.0v2.3h-5.0zM168.6,97.5h5.0v2.3h-5.0zM174.6,97.5h2.3v2.3h-2.3zM183.6,97.5h1.1v2.3h-1.1zM156.6,100.8h2.3v2.3h-2.3zM162.6,100.8h2.3v2.3h-2.3zM165.6,100.8h2.3v2.3h-2.3zM168.6,100.8h2.3v2.3h-2.3zM171.6,100.8h5.0v2.3h-5.0zM177.6,100.8h2.3v2.3h-2.3zM180.6,100.8h2.3v2.3h-2.3zM183.6,100.8h1.1v2.3h-1.1zM156.6,104.1h2.3v2.3h-2.3zM162.6,104.1h5.0v2.3h-5.0zM168.6,104.1h2.3v2.3h-2.3zM171.6,104.1h5.0v2.3h-5.0zM177.6,104.1h2.3v2.3h-2.3zM180.6,104.1h4.1v2.3h-4.1zM156.6,107.4h2.3v2.3h-2.3zM159.6,107.4h5.0v2.3h-5.0zM165.6,107.4h5.0v2.3h-5.0zM171.6,107.4h2.3v2.3h-2.3zM174.6,107.4h2.3v2.3h-2.3zM177.6,107.4h5.0v2.3h-5.0zM183.6,107.4h1.1v2.3h-1.1zM156.6,110.7h5.0v2.3h-5.0zM162.6,110.7h5.0v2.3h-5.0zM168.6,110.7h2.3v2.3h-2.3zM171.6,110.7h5.0v2.3h-5.0zM177.6,110.7h2.3v2.3h-2.3zM180.6,110.7h2.3v2.3h-2.3zM183.6,110.7h1.1v2.3h-1.1zM156.6,114.0h2.3v2.3h-2.3zM159.6,114.0h2.3v2.3h-2.3zM162.6,114.0h2.3v2.3h-2.3zM165.6,114.0h2.3v2.3h-2.3zM168.6,114.0h2.3v2.3h-2.3zM171.6,114.0h2.3v2.3h-2.3zM174.6,114.0h2.3v2.3h-2.3zM177.6,114.0h2.3v2.3h-2.3zM183.6,114.0h1.1v2.3h-1.1zM288.6,81.8h2.3v2.3h-2.3zM291.6,81.8h2.3v2.3h-2.3zM294.6,81.8h5.0v2.3h-5.0zM300.6,81.8h5.0v2.3h-5.0zM306.6,81.8h2.3v2.3h-2.3zM309.6,81.8h4.1v2.3h-4.1zM288.6,85.1h2.3v2.3h-2.3zM291.6,85.1h2.3v2.3h-2.3zM297.6,85.1h5.0v2.3h-5.0zM306.6,85.1h2.3v2.3h-2.3zM309.6,85.1h2.3v2.3h-2.3zM312.6,85.1h1.1v2.3h-1.1zM288.6,88.4h2.3v2.3h-2.3zM291.6,88.4h2.3v2.3h-2.3zM294.6,88.4h2.3v2.3h-2.3zM297.6,88.4h2.3v2.3h-2.3zM303.6,88.4h2.3v2.3h-2.3zM306.6,88.4h2.3v2.3h-2.3zM309.6,88.4h4.1v2.3h-4.1zM288.6,91.7h2.3v2.3h-2.3zM291.6,91.7h2.3v2.3h-2.3zM294.6,91.7h2.3v2.3h-2.3zM297.6,91.7h2.3v2.3h-2.3zM300.6,91.7h2.3v2.3h-2.3zM306.6,91.7h5.0v2.3h-5.0zM312.6,91.7h1.1v2.3h-1.1zM288.6,95.0h5.0v2.3h-5.0zM294.6,95.0h2.3v2.3h-2.3zM297.6,95.0h2.3v2.3h-2.3zM300.6,95.0h2.3v2.3h-2.3zM303.6,95.0h5.0v2.3h-5.0zM312.6,95.0h1.1v2.3h-1.1zM288.6,98.3h2.3v2.3h-2.3zM291.6,98.3h2.3v2.3h-2.3zM294.6,98.3h5.0v2.3h-5.0zM300.6,98.3h2.3v2.3h-2.3zM306.6,98.3h5.0v2.3h-5.0zM312.6,98.3h1.1v2.3h-1.1zM288.6,101.6h2.3v2.3h-2.3zM294.6,101.6h2.3v2.3h-2.3zM297.6,101.6h2.3v2.3h-2.3zM300.6,101.6h5.0v2.3h-5.0zM306.6,101.6h2.3v2.3h-2.3zM309.6,101.6h4.1v2.3h-4.1zM288.6,104.9h2.3v2.3h-2.3zM291.6,104.9h2.3v2.3h-2.3zM300.6,104.9h5.0v2.3h-5.0zM309.6,104.9h2.3v2.3h-2.3zM288.6,108.2h2.3v2.3h-2.3zM291.6,108.2h2.3v2.3h-2.3zM294.6,108.2h2.3v2.3h-2.3zM297.6,108.2h2.3v2.3h-2.3zM300.6,108.2h2.3v2.3h-2.3zM306.6,108.2h5.0v2.3h-5.0zM312.6,108.2h1.1v2.3h-1.1zM288.6,111.5h5.0v2.3h-5.0zM294.6,111.5h2.3v2.3h-2.3zM297.6,111.5h2.3v2.3h-2.3zM303.6,111.5h2.3v2.3h-2.3zM309.6,111.5h2.3v2.3h-2.3zM312.6,111.5h1.1v2.3h-1.1zM288.6,114.8h2.3v2.3h-2.3zM291.6,114.8h5.0v2.3h-5.0zM297.6,114.8h5.0v2.3h-5.0zM306.6,114.8h2.3v2.3h-2.3zM312.6,114.8h1.1v2.3h-1.1zM330.6,94.1h2.3v2.3h-2.3zM333.6,94.1h2.3v2.3h-2.3zM336.6,94.1h5.0v2.3h-5.0zM342.6,94.1h5.0v2.3h-5.0zM315.6,97.4h2.3v2.3h-2.3zM318.6,97.4h5.0v2.3h-5.0zM327.6,97.4h2.3v2.3h-2.3zM330.6,97.4h2.3v2.3h-2.3zM336.6,97.4h5.0v2.3h-5.0zM342.6,97.4h5.0v2.3h-5.0zM348.6,97.4h2.3v2.3h-2.3zM351.6,97.4h2.3v2.3h-2.3zM354.6,97.4h5.0v2.3h-5.0zM360.6,97.4h2.3v2.3h-2.3zM315.6,100.7h2.3v2.3h-2.3zM318.6,100.7h2.3v2.3h-2.3zM321.6,100.7h2.3v2.3h-2.3zM333.6,100.7h2.3v2.3h-2.3zM336.6,100.7h2.3v2.3h-2.3zM339.6,100.7h2.3v2.3h-2.3zM342.6,100.7h2.3v2.3h-2.3zM345.6,100.7h5.0v2.3h-5.0zM351.6,100.7h5.0v2.3h-5.0zM357.6,100.7h2.3v2.3h-2.3zM360.6,100.7h2.3v2.3h-2.3zM363.6,100.7h1.1v2.3h-1.1zM315.6,104.0h2.3v2.3h-2.3zM318.6,104.0h2.3v2.3h-2.3zM321.6,104.0h5.0v2.3h-5.0zM327.6,104.0h2.3v2.3h-2.3zM330.6,104.0h5.0v2.3h-5.0zM336.6,104.0h2.3v2.3h-2.3zM339.6,104.0h5.0v2.3h-5.0zM348.6,104.0h2.3v2.3h-2.3zM351.6,104.0h5.0v2.3h-5.0zM360.6,104.0h2.3v2.3h-2.3zM363.6,104.0h1.1v2.3h-1.1zM318.6,107.3h5.0v2.3h-5.0zM324.6,107.3h5.0v2.3h-5.0zM330.6,107.3h2.3v2.3h-2.3zM333.6,107.3h5.0v2.3h-5.0zM339.6,107.3h2.3v2.3h-2.3zM342.6,107.3h2.3v2.3h-2.3zM345.6,107.3h2.3v2.3h-2.3zM348.6,107.3h2.3v2.3h-2.3zM351.6,107.3h5.0v2.3h-5.0zM357.6,107.3h2.3v2.3h-2.3zM360.6,107.3h4.1v2.3h-4.1zM315.6,110.6h2.3v2.3h-2.3zM318.6,110.6h5.0v2.3h-5.0zM324.6,110.6h2.3v2.3h-2.3zM327.6,110.6h2.3v2.3h-2.3zM330.6,110.6h2.3v2.3h-2.3zM333.6,110.6h2.3v2.3h-2.3zM336.6,110.6h2.3v2.3h-2.3zM339.6,110.6h2.3v2.3h-2.3zM345.6,110.6h2.3v2.3h-2.3zM348.6,110.6h2.3v2.3h-2.3zM357.6,110.6h2.3v2.3h-2.3zM360.6,110.6h2.3v2.3h-2.3zM363.6,110.6h1.1v2.3h-1.1zM315.6,113.9h5.0v2.3h-5.0zM321.6,113.9h5.0v2.3h-5.0zM327.6,113.9h2.3v2.3h-2.3zM330.6,113.9h2.3v2.3h-2.3zM333.6,113.9h5.0v2.3h-5.0zM339.6,113.9h2.3v2.3h-2.3zM342.6,113.9h2.3v2.3h-2.3zM345.6,113.9h2.3v2.3h-2.3zM348.6,113.9h5.0v2.3h-5.0zM354.6,113.9h2.3v2.3h-2.3zM357.6,113.9h5.0v2.3h-5.0zM363.6,113.9h1.1v2.3h-1.1zM452.6,86.6h2.3v2.3h-2.3zM458.6,86.6h2.3v2.3h-2.3zM443.6,89.9h2.3v2.3h-2.3zM446.6,89.9h5.0v2.3h-5.0zM452.6,89.9h5.0v2.3h-5.0zM458.6,89.9h2.3v2.3h-2.3zM464.6,89.9h5.0v2.3h-5.0zM443.6,93.2h2.3v2.3h-2.3zM446.6,93.2h2.3v2.3h-2.3zM449.6,93.2h2.3v2.3h-2.3zM452.6,93.2h5.0v2.3h-5.0zM458.6,93.2h2.3v2.3h-2.3zM461.6,93.2h2.3v2.3h-2.3zM464.6,93.2h2.3v2.3h-2.3zM467.6,93.2h2.1v2.3h-2.1zM443.6,96.5h2.3v2.3h-2.3zM446.6,96.5h2.3v2.3h-2.3zM449.6,96.5h2.3v2.3h-2.3zM452.6,96.5h5.0v2.3h-5.0zM458.6,96.5h2.3v2.3h-2.3zM461.6,96.5h2.3v2.3h-2.3zM467.6,96.5h2.1v2.3h-2.1zM443.6,99.8h2.3v2.3h-2.3zM446.6,99.8h2.3v2.3h-2.3zM449.6,99.8h2.3v2.3h-2.3zM452.6,99.8h5.0v2.3h-5.0zM458.6,99.8h2.3v2.3h-2.3zM464.6,99.8h2.3v2.3h-2.3zM467.6,99.8h2.1v2.3h-2.1zM443.6,103.1h5.0v2.3h-5.0zM449.6,103.1h2.3v2.3h-2.3zM455.6,103.1h2.3v2.3h-2.3zM458.6,103.1h2.3v2.3h-2.3zM461.6,103.1h5.0v2.3h-5.0zM467.6,103.1h2.1v2.3h-2.1zM443.6,106.4h2.3v2.3h-2.3zM449.6,106.4h5.0v2.3h-5.0zM455.6,106.4h5.0v2.3h-5.0zM461.6,106.4h2.3v2.3h-2.3zM464.6,106.4h2.3v2.3h-2.3zM467.6,106.4h2.1v2.3h-2.1zM443.6,109.7h2.3v2.3h-2.3zM446.6,109.7h5.0v2.3h-5.0zM452.6,109.7h5.0v2.3h-5.0zM458.6,109.7h2.3v2.3h-2.3zM461.6,109.7h2.3v2.3h-2.3zM464.6,109.7h2.3v2.3h-2.3zM467.6,109.7h2.1v2.3h-2.1zM446.6,113.0h5.0v2.3h-5.0zM452.6,113.0h2.3v2.3h-2.3zM455.6,113.0h5.0v2.3h-5.0zM464.6,113.0h2.3v2.3h-2.3zM482.6,73.1h2.3v2.3h-2.3zM488.6,73.1h5.0v2.3h-5.0zM494.6,73.1h5.0v2.3h-5.0zM467.6,76.4h5.0v2.3h-5.0zM473.6,76.4h5.0v2.3h-5.0zM479.6,76.4h5.0v2.3h-5.0zM485.6,76.4h2.3v2.3h-2.3zM488.6,76.4h2.3v2.3h-2.3zM491.6,76.4h5.0v2.3h-5.0zM497.6,76.4h2.3v2.3h-2.3zM500.6,76.4h5.0v2.3h-5.0zM506.6,76.4h2.3v2.3h-2.3zM509.6,76.4h2.1v2.3h-2.1zM467.6,79.7h2.3v2.3h-2.3zM470.6,79.7h5.0v2.3h-5.0zM476.6,79.7h2.3v2.3h-2.3zM479.6,79.7h5.0v2.3h-5.0zM485.6,79.7h5.0v2.3h-5.0zM491.6,79.7h5.0v2.3h-5.0zM503.6,79.7h2.3v2.3h-2.3zM506.6,79.7h2.3v2.3h-2.3zM509.6,79.7h2.1v2.3h-2.1zM467.6,83.0h5.0v2.3h-5.0zM473.6,83.0h2.3v2.3h-2.3zM476.6,83.0h2.3v2.3h-2.3zM479.6,83.0h2.3v2.3h-2.3zM482.6,83.0h2.3v2.3h-2.3zM485.6,83.0h2.3v2.3h-2.3zM488.6,83.0h5.0v2.3h-5.0zM494.6,83.0h2.3v2.3h-2.3zM500.6,83.0h5.0v2.3h-5.0zM506.6,83.0h2.3v2.3h-2.3zM509.6,83.0h2.1v2.3h-2.1zM467.6,86.3h2.3v2.3h-2.3zM470.6,86.3h2.3v2.3h-2.3zM473.6,86.3h5.0v2.3h-5.0zM479.6,86.3h5.0v2.3h-5.0zM485.6,86.3h2.3v2.3h-2.3zM488.6,86.3h5.0v2.3h-5.0zM497.6,86.3h2.3v2.3h-2.3zM500.6,86.3h5.0v2.3h-5.0zM506.6,86.3h2.3v2.3h-2.3zM509.6,86.3h2.1v2.3h-2.1zM467.6,89.6h5.0v2.3h-5.0zM473.6,89.6h2.3v2.3h-2.3zM476.6,89.6h2.3v2.3h-2.3zM479.6,89.6h2.3v2.3h-2.3zM482.6,89.6h5.0v2.3h-5.0zM488.6,89.6h5.0v2.3h-5.0zM494.6,89.6h2.3v2.3h-2.3zM497.6,89.6h2.3v2.3h-2.3zM503.6,89.6h5.0v2.3h-5.0zM509.6,89.6h2.1v2.3h-2.1zM467.6,92.9h5.0v2.3h-5.0zM473.6,92.9h2.3v2.3h-2.3zM479.6,92.9h2.3v2.3h-2.3zM482.6,92.9h5.0v2.3h-5.0zM488.6,92.9h2.3v2.3h-2.3zM491.6,92.9h2.3v2.3h-2.3zM494.6,92.9h5.0v2.3h-5.0zM500.6,92.9h5.0v2.3h-5.0zM506.6,92.9h2.3v2.3h-2.3zM509.6,92.9h2.1v2.3h-2.1zM467.6,96.2h2.3v2.3h-2.3zM473.6,96.2h2.3v2.3h-2.3zM476.6,96.2h5.0v2.3h-5.0zM482.6,96.2h2.3v2.3h-2.3zM485.6,96.2h2.3v2.3h-2.3zM488.6,96.2h2.3v2.3h-2.3zM491.6,96.2h2.3v2.3h-2.3zM494.6,96.2h5.0v2.3h-5.0zM500.6,96.2h2.3v2.3h-2.3zM506.6,96.2h2.3v2.3h-2.3zM467.6,99.5h5.0v2.3h-5.0zM473.6,99.5h2.3v2.3h-2.3zM476.6,99.5h2.3v2.3h-2.3zM479.6,99.5h2.3v2.3h-2.3zM482.6,99.5h2.3v2.3h-2.3zM485.6,99.5h5.0v2.3h-5.0zM491.6,99.5h2.3v2.3h-2.3zM494.6,99.5h2.3v2.3h-2.3zM497.6,99.5h2.3v2.3h-2.3zM500.6,99.5h5.0v2.3h-5.0zM506.6,99.5h2.3v2.3h-2.3zM509.6,99.5h2.1v2.3h-2.1zM467.6,102.8h5.0v2.3h-5.0zM476.6,102.8h5.0v2.3h-5.0zM482.6,102.8h5.0v2.3h-5.0zM488.6,102.8h2.3v2.3h-2.3zM491.6,102.8h2.3v2.3h-2.3zM494.6,102.8h2.3v2.3h-2.3zM497.6,102.8h5.0v2.3h-5.0zM503.6,102.8h2.3v2.3h-2.3zM506.6,102.8h2.3v2.3h-2.3zM509.6,102.8h2.1v2.3h-2.1zM467.6,106.1h5.0v2.3h-5.0zM473.6,106.1h5.0v2.3h-5.0zM479.6,106.1h2.3v2.3h-2.3zM482.6,106.1h5.0v2.3h-5.0zM488.6,106.1h2.3v2.3h-2.3zM491.6,106.1h5.0v2.3h-5.0zM500.6,106.1h2.3v2.3h-2.3zM503.6,106.1h2.3v2.3h-2.3zM506.6,106.1h2.3v2.3h-2.3zM509.6,106.1h2.1v2.3h-2.1zM467.6,109.4h2.3v2.3h-2.3zM473.6,109.4h5.0v2.3h-5.0zM479.6,109.4h5.0v2.3h-5.0zM485.6,109.4h5.0v2.3h-5.0zM491.6,109.4h2.3v2.3h-2.3zM494.6,109.4h2.3v2.3h-2.3zM497.6,109.4h2.3v2.3h-2.3zM500.6,109.4h5.0v2.3h-5.0zM506.6,109.4h2.3v2.3h-2.3zM509.6,109.4h2.1v2.3h-2.1zM470.6,112.7h2.3v2.3h-2.3zM473.6,112.7h2.3v2.3h-2.3zM476.6,112.7h2.3v2.3h-2.3zM479.6,112.7h5.0v2.3h-5.0zM485.6,112.7h2.3v2.3h-2.3zM488.6,112.7h2.3v2.3h-2.3zM494.6,112.7h2.3v2.3h-2.3zM497.6,112.7h5.0v2.3h-5.0zM503.6,112.7h2.3v2.3h-2.3zM506.6,112.7h2.3v2.3h-2.3zM509.6,112.7h2.1v2.3h-2.1zM467.6,116.0h2.3v2.3h-2.3zM470.6,116.0h2.3v2.3h-2.3zM473.6,116.0h2.3v2.3h-2.3zM476.6,116.0h5.0v2.3h-5.0zM482.6,116.0h2.3v2.3h-2.3zM485.6,116.0h2.3v2.3h-2.3zM488.6,116.0h2.3v2.3h-2.3zM491.6,116.0h2.3v2.3h-2.3zM497.6,116.0h2.3v2.3h-2.3zM500.6,116.0h5.0v2.3h-5.0zM506.6,116.0h2.3v2.3h-2.3zM509.6,116.0h2.1v2.3h-2.1zM517.6,95.9h2.3v2.3h-2.3zM523.6,95.9h2.3v2.3h-2.3zM526.6,95.9h2.3v2.3h-2.3zM529.6,95.9h5.0v2.3h-5.0zM535.6,95.9h2.3v2.3h-2.3zM517.6,99.2h2.3v2.3h-2.3zM523.6,99.2h5.0v2.3h-5.0zM529.6,99.2h5.0v2.3h-5.0zM535.6,99.2h4.1v2.3h-4.1zM517.6,102.5h5.0v2.3h-5.0zM523.6,102.5h5.0v2.3h-5.0zM529.6,102.5h5.0v2.3h-5.0zM535.6,102.5h2.3v2.3h-2.3zM538.6,102.5h1.1v2.3h-1.1zM517.6,105.8h2.3v2.3h-2.3zM520.6,105.8h2.3v2.3h-2.3zM523.6,105.8h2.3v2.3h-2.3zM526.6,105.8h5.0v2.3h-5.0zM532.6,105.8h5.0v2.3h-5.0zM538.6,105.8h1.1v2.3h-1.1zM517.6,109.1h5.0v2.3h-5.0zM523.6,109.1h2.3v2.3h-2.3zM529.6,109.1h2.3v2.3h-2.3zM532.6,109.1h2.3v2.3h-2.3zM535.6,109.1h4.1v2.3h-4.1zM520.6,112.4h5.0v2.3h-5.0zM526.6,112.4h2.3v2.3h-2.3zM532.6,112.4h5.0v2.3h-5.0zM538.6,112.4h1.1v2.3h-1.1zM520.6,115.7h2.3v2.3h-2.3zM523.6,115.7h5.0v2.3h-5.0zM529.6,115.7h2.3v2.3h-2.3zM532.6,115.7h2.3v2.3h-2.3zM535.6,115.7h2.3v2.3h-2.3zM538.6,115.7h1.1v2.3h-1.1z"/>
<rect x="133" y="83" width="2.4" height="4" fill="#c8d8de"/><rect x="172" y="90" width="2.2" height="7" fill="#c8d8de"/><rect x="452" y="82.5" width="2.2" height="4" fill="#c8d8de"/></g>
  </svg>
</div>
<div class="abs" style="left:4px;top:0;width:636px;height:1px;background:#1d2a42"></div>
<div class="t" style="left:34.35px;top:37.5px;font-size:39px;font-weight:bold;color:#fff;transform:scaleX(0.9155)">METAKAOLIN</div>
<div class="t" style="left:277.24px;top:37.5px;font-size:39px;font-weight:bold;color:#fff;transform:scaleX(0.9195)">MANUFACTURING</div>
<div class="t" style="left:600.79px;top:37.5px;font-size:39px;font-weight:bold;color:#fff;transform:scaleX(0.9039)">PLANT</div>
<div class="t" style="left:728.31px;top:37.5px;font-size:39px;font-weight:bold;color:#fff;transform:scaleX(0.8972)">PROJECT</div>
<div class="t" style="left:903.42px;top:37.5px;font-size:39px;font-weight:bold;color:#fff;transform:scaleX(0.8616)">REPORT</div>

<!-- Left panel -->
<div class="t" id="mo" style="left:118px;top:139.3px;font-size:34.6px;font-weight:bold;color:#2d4572;transform:scaleX(0.959)">Market Opportunity (US$)</div>
<div class="abs" style="left:25px;top:184px;width:3px;height:184px;background:#4a2380"></div>
<div class="bar" style="top:192.8px;width:194px"></div>
<div class="bar" style="top:221px;width:218px"></div>
<div class="bar" style="top:249px;width:255px"></div>
<div class="bar" style="top:278px;width:293px"></div>
<div class="bar" style="top:307px;width:329px"></div>
<div class="bar" style="top:335.2px;width:364px"></div>

<div class="t" id="l1" style="left:368px;top:206.5px;font-size:21.2px;font-weight:bold;color:#262a30;transform:scaleX(0.972)">The market is exhibiting a</div>
<div class="t" id="l2" style="left:366px;top:240.4px;font-size:34.2px;font-weight:bold;color:#2c4a7c;transform:scaleX(0.934)">CONTINUOUS</div>
<div class="t" id="l3" style="left:367px;top:283.6px;font-size:21.2px;font-weight:bold;color:#262a30;transform:scaleX(1.005)">growth rate</div>

<div class="t" id="rc" style="left:28px;top:388.6px;font-size:20.3px;font-weight:bold;color:#2b2e33;transform:scaleX(1.013)">Report Coverage:</div>

<!-- dashed line -->
<svg class="abs" style="left:600px;top:140px" width="80" height="560">
  <line x1="37" y1="9.5" x2="43.75" y2="548.75" stroke="#7a7a7a" stroke-width="2" stroke-dasharray="7.5 6.5"/>
</svg>

<!-- Business model diagram -->
<svg id="bm" class="abs" style="left:0;top:0" width="640" height="720">
<circle cx="316.1" cy="540.0" r="85" fill="none" stroke="#8f8f8f" stroke-width="1.3"/>
<defs><radialGradient id="gseg" cx="316.1" cy="540.0" r="65.5" gradientUnits="userSpaceOnUse"><stop offset="0.82" stop-color="#6aa2cc"/><stop offset="0.92" stop-color="#7c9cb8"/><stop offset="1" stop-color="#8f979e"/></radialGradient></defs>
<path d="M318.08,480.43 A59.6,59.6 0 0 1 356.82,496.48" fill="none" stroke="#2190c0" stroke-width="10.8"/>
<path d="M359.62,499.28 A59.6,59.6 0 0 1 375.67,538.02" fill="none" stroke="url(#gseg)" stroke-width="10.8"/>
<path d="M375.67,541.98 A59.6,59.6 0 0 1 359.62,580.72" fill="none" stroke="#1f48c6" stroke-width="10.8"/>
<path d="M356.82,583.52 A59.6,59.6 0 0 1 318.08,599.57" fill="none" stroke="#45e0d0" stroke-width="10.8"/>
<path d="M314.12,599.57 A59.6,59.6 0 0 1 275.38,583.52" fill="none" stroke="#2190c0" stroke-width="10.8"/>
<path d="M272.58,580.72 A59.6,59.6 0 0 1 256.53,541.98" fill="none" stroke="url(#gseg)" stroke-width="10.8"/>
<path d="M256.53,538.02 A59.6,59.6 0 0 1 272.58,499.28" fill="none" stroke="#1f48c6" stroke-width="10.8"/>
<path d="M275.38,496.48 A59.6,59.6 0 0 1 314.12,480.43" fill="none" stroke="#45e0d0" stroke-width="10.8"/>
<circle cx="290.84" cy="479.02" r="0.75" fill="#333"/>
<circle cx="289.85" cy="476.62" r="0.75" fill="#333"/>
<circle cx="288.85" cy="474.22" r="0.75" fill="#333"/>
<circle cx="287.86" cy="471.82" r="0.75" fill="#333"/>
<circle cx="283.57" cy="461.47" r="7.6" fill="#fff" stroke="#5fe3d3" stroke-width="1.6"/>
<circle cx="283.57" cy="461.47" r="4.8" fill="#45dccb"/>
<circle cx="341.36" cy="479.02" r="0.75" fill="#333"/>
<circle cx="342.35" cy="476.62" r="0.75" fill="#333"/>
<circle cx="343.35" cy="474.22" r="0.75" fill="#333"/>
<circle cx="344.34" cy="471.82" r="0.75" fill="#333"/>
<circle cx="348.63" cy="461.47" r="7.6" fill="#fff" stroke="#2190c0" stroke-width="1.6"/>
<circle cx="348.63" cy="461.47" r="4.8" fill="#2190c0"/>
<circle cx="377.08" cy="514.74" r="0.75" fill="#333"/>
<circle cx="379.48" cy="513.75" r="0.75" fill="#333"/>
<circle cx="381.88" cy="512.75" r="0.75" fill="#333"/>
<circle cx="384.28" cy="511.76" r="0.75" fill="#333"/>
<circle cx="394.63" cy="507.47" r="7.6" fill="#fff" stroke="#9b9b9b" stroke-width="1.6"/>
<circle cx="394.63" cy="507.47" r="4.8" fill="#9b9b9b"/>
<circle cx="377.08" cy="565.26" r="0.75" fill="#333"/>
<circle cx="379.48" cy="566.25" r="0.75" fill="#333"/>
<circle cx="381.88" cy="567.25" r="0.75" fill="#333"/>
<circle cx="384.28" cy="568.24" r="0.75" fill="#333"/>
<circle cx="394.63" cy="572.53" r="7.6" fill="#fff" stroke="#1f3fa8" stroke-width="1.6"/>
<circle cx="394.63" cy="572.53" r="4.8" fill="#1f48c6"/>
<circle cx="341.36" cy="600.98" r="0.75" fill="#333"/>
<circle cx="342.35" cy="603.38" r="0.75" fill="#333"/>
<circle cx="343.35" cy="605.78" r="0.75" fill="#333"/>
<circle cx="344.34" cy="608.18" r="0.75" fill="#333"/>
<circle cx="348.63" cy="618.53" r="7.6" fill="#fff" stroke="#5fe3d3" stroke-width="1.6"/>
<circle cx="348.63" cy="618.53" r="4.8" fill="#45dccb"/>
<circle cx="290.84" cy="600.98" r="0.75" fill="#333"/>
<circle cx="289.85" cy="603.38" r="0.75" fill="#333"/>
<circle cx="288.85" cy="605.78" r="0.75" fill="#333"/>
<circle cx="287.86" cy="608.18" r="0.75" fill="#333"/>
<circle cx="283.57" cy="618.53" r="7.6" fill="#fff" stroke="#2190c0" stroke-width="1.6"/>
<circle cx="283.57" cy="618.53" r="4.8" fill="#2190c0"/>
<circle cx="255.12" cy="565.26" r="0.75" fill="#333"/>
<circle cx="252.72" cy="566.25" r="0.75" fill="#333"/>
<circle cx="250.32" cy="567.25" r="0.75" fill="#333"/>
<circle cx="247.92" cy="568.24" r="0.75" fill="#333"/>
<circle cx="237.57" cy="572.53" r="7.6" fill="#fff" stroke="#9b9b9b" stroke-width="1.6"/>
<circle cx="237.57" cy="572.53" r="4.8" fill="#9b9b9b"/>
<circle cx="255.12" cy="514.74" r="0.75" fill="#333"/>
<circle cx="252.72" cy="513.75" r="0.75" fill="#333"/>
<circle cx="250.32" cy="512.75" r="0.75" fill="#333"/>
<circle cx="247.92" cy="511.76" r="0.75" fill="#333"/>
<circle cx="237.57" cy="507.47" r="7.6" fill="#fff" stroke="#1f3fa8" stroke-width="1.6"/>
<circle cx="237.57" cy="507.47" r="4.8" fill="#1f48c6"/>
<defs><linearGradient id="gg" x1="163" y1="0" x2="194" y2="0" gradientUnits="userSpaceOnUse"><stop offset="0.33" stop-color="#5a9bd2"/><stop offset="0.36" stop-color="#8c8e92"/></linearGradient></defs>
<path fill-rule="evenodd" fill="url(#gg)" d="M190.38,595.20 L193.09,597.02 L191.40,601.21 L188.18,600.65 L185.64,603.24 L186.26,606.45 L182.11,608.22 L180.23,605.55 L176.60,605.58 L174.78,608.29 L170.59,606.60 L171.15,603.38 L168.56,600.84 L165.35,601.46 L163.58,597.31 L166.25,595.43 L166.22,591.80 L163.51,589.98 L165.20,585.79 L168.42,586.35 L170.96,583.76 L170.34,580.55 L174.49,578.78 L176.37,581.45 L180.00,581.42 L181.82,578.71 L186.01,580.40 L185.45,583.62 L188.04,586.16 L191.25,585.54 L193.02,589.69 L190.35,591.57 Z M185.10,593.50 A6.8,6.8 0 1 0 171.50,593.50 A6.8,6.8 0 1 0 185.10,593.50 Z"/>
<path fill-rule="evenodd" fill="#8c8e92" d="M204.70,575.30 L206.65,576.31 L205.77,579.38 L203.58,579.21 L201.91,581.09 L202.34,583.24 L199.39,584.46 L198.16,582.65 L195.65,582.51 L194.24,584.19 L191.44,582.65 L192.09,580.56 L190.63,578.51 L188.44,578.44 L187.90,575.30 L189.94,574.50 L190.63,572.09 L189.32,570.33 L191.44,567.95 L193.33,569.05 L195.65,568.09 L196.21,565.96 L199.39,566.14 L199.71,568.30 L201.91,569.51 L203.92,568.62 L205.77,571.22 L204.27,572.82 Z M201.00,575.30 A3.7,3.7 0 1 0 193.60,575.30 A3.7,3.7 0 1 0 201.00,575.30 Z"/>
<path d="M244.87,405.85 A17.6,17.6 0 0 1 259.24,386.07" fill="none" stroke="#3fdcc8" stroke-width="3.6"/>
<path d="M260.15,391.19 L258.34,380.95 L263.83,385.87 Z" fill="#3fdcc8"/>
<path d="M269.46,387.32 A17.6,17.6 0 0 1 277.84,411.66" fill="none" stroke="#3fdcc8" stroke-width="3.6"/>
<path d="M273.25,409.22 L282.43,414.10 L275.17,415.40 Z" fill="#3fdcc8"/>
<path d="M271.10,418.64 A17.6,17.6 0 0 1 249.22,415.18" fill="none" stroke="#3fdcc8" stroke-width="3.6"/>
<path d="M253.09,411.70 L245.36,418.66 L246.62,411.39 Z" fill="#3fdcc8"/>
<path d="M258.5,408.5 L258.5,406.8 A6.6,6.6 0 1 1 264.1,406.8 L264.1,408.5" fill="none" stroke="#3fdcc8" stroke-width="2.6" stroke-linejoin="round"/>
<rect x="258.4" y="408.2" width="5.8" height="5" fill="#3fdcc8"/>
<!-- COSTS icon -->
<g fill="#1f86b8">
  <path d="M368.7,386.7 L383.7,386.7 L381.2,394.9 L371.2,394.9 Z"/>
  <path d="M371.5,396.9 L380.8,396.9 L393.5,417.5 Q396,423.6 389,423.6 L363.5,423.6 Q356.5,423.6 359,417.5 Z"/>
</g>
<path d="M379.7,409.2 C378.6,407.4 372.9,407.2 372.9,410.2 C372.9,412.6 379.9,411.7 379.9,414.6 C379.9,417.7 373.9,417.6 372.6,415.4" fill="none" stroke="#fff" stroke-width="2.4"/>
<path d="M376.3,404.8 L376.3,407.6 M376.3,416.6 L376.3,419.2" stroke="#fff" stroke-width="2"/>
<!-- DISTRIBUTION icon -->
<g fill="#1d47bf" stroke="#1d47bf">
  <line x1="184.4" y1="485.6" x2="176.6" y2="472.5" stroke-width="1.8"/>
  <line x1="184.4" y1="485.6" x2="200.4" y2="485.9" stroke-width="1.8"/>
  <line x1="184.4" y1="485.6" x2="176.6" y2="498.1" stroke-width="1.8"/>
  <g stroke="none">
  <circle cx="176.6" cy="472.5" r="4.9"/><circle cx="192.2" cy="472.5" r="4.9"/>
  <circle cx="168.8" cy="485.9" r="4.9"/><circle cx="200.4" cy="485.9" r="4.9"/>
  <circle cx="176.6" cy="498.1" r="4.9"/><circle cx="192.2" cy="498.1" r="4.9"/>
  </g>
  <circle cx="184.4" cy="485.6" r="4.9" fill="#fff" stroke-width="1.9"/>
</g>
<!-- PRODUCTS icon -->
<g>
  <rect x="428" y="471.7" width="14.6" height="5.8" fill="#8e9095"/>
  <rect x="450.3" y="471.7" width="15.1" height="5.8" fill="#8e9095"/>
  <path d="M428,480 L442.6,480 L442.6,485 L450.3,485 L450.3,480 L465.4,480 L465.4,498 Q465.4,502.8 460.6,502.8 L432.8,502.8 Q428,502.8 428,498 Z" fill="#8e9095"/>
  <path d="M428,480 L442.6,480 L442.6,485 L450.3,485 L450.3,480 L465.4,480 L465.4,488 L449,488 L449,498.5 L428,498.5 Z" fill="#5c9bd0"/>
  <rect x="450.8" y="491.6" width="9.2" height="5.8" fill="#fff"/>
</g>
<!-- REVENUE icon -->
<g fill="#1d47bf">
  <circle cx="453.2" cy="575.5" r="3.1" fill="none" stroke="#1d47bf" stroke-width="1.9"/>
  <circle cx="445.5" cy="585" r="4.5" fill="none" stroke="#1d47bf" stroke-width="2.1"/>
  <path d="M424,589.2 L430.9,589.2 L430.9,591.1 L444,592.6 Q451,593.6 452.5,592.2 L455,590.8 Q457,589.9 458.5,590.8 Q460.5,589.9 462.2,590.8 Q464,589.9 465.8,590.8 L467,591 Q469.8,591.8 468.6,594.6 Q458,604.5 443.5,608.6 L424,608.6 Z"/>
</g>
<path d="M439.2,600.4 L448.6,600.4 Q452.6,600.4 452.6,596.8 Q452.6,594.6 454.6,593" fill="none" stroke="#fff" stroke-width="2"/>
<!-- CUSTOMERS icon -->
<g fill="#1f86b8">
  <circle cx="262.3" cy="649.4" r="9.2"/>
  <path d="M243.8,676 L243.8,670 Q243.8,662 252,662 L272.8,662 Q281,662 281,670 L281,676 Z"/>
</g>
<path d="M258.3,663.5 L266.3,663.5 L263.8,668 L266.5,676.5 L258.1,676.5 L260.8,668 Z" fill="#fff"/>
<!-- COMPETENCIES icon -->
<g fill="#40e0cc">
  <rect x="364.9" y="639.2" width="23.1" height="14.1" rx="2"/>
  <rect x="354" y="661.1" width="20.4" height="14.6" rx="2"/>
  <rect x="377.8" y="661.1" width="20.9" height="14.6" rx="2"/>
</g>
<g stroke="#40e0cc" stroke-width="2" fill="none">
  <path d="M376.5,653 L376.5,657 M363.7,662 L363.7,657 L388.3,657 L388.3,662"/>
</g>
<g fill="#fff">
  <rect x="368.3" y="642.8" width="16.3" height="6.6"/>
  <rect x="357.6" y="665" width="13.2" height="6.6"/>
  <rect x="381.5" y="665" width="13.5" height="6.6"/>
</g>
<!-- BM text -->
<text x="316" y="533.9" fill="#1a1f4a" font-family="Liberation Sans" font-weight="bold" font-size="16" text-anchor="middle" letter-spacing="-0.6">BUSINESS</text>
<text x="316" y="551.7" fill="#1a1f4a" font-family="Liberation Sans" font-weight="bold" font-size="16" text-anchor="middle" letter-spacing="-0.6">MODEL</text>
<text x="316" y="565.2" fill="#1a1f4a" font-family="Liberation Sans" font-size="10.2" text-anchor="middle">CONCEPT</text>
<!-- labels -->
<g fill="#1c1e40" stroke="#1c1e40" stroke-width="0.22" font-family="Liberation Sans" font-size="9.4">
<text x="229.9" y="439.8" textLength="64.9" lengthAdjust="spacingAndGlyphs">MANAGEMENT</text>
<text x="360.9" y="439.8" textLength="30.6" lengthAdjust="spacingAndGlyphs">COSTS</text>
<text x="153.3" y="518.9" textLength="62.4" lengthAdjust="spacingAndGlyphs">DISTRIBUTION</text>
<text x="421.7" y="518.9" textLength="50" lengthAdjust="spacingAndGlyphs">PRODUCTS</text>
<text x="162.7" y="624.7" textLength="44.3" lengthAdjust="spacingAndGlyphs">SERVICES</text>
<text x="426" y="624.7" textLength="41.8" lengthAdjust="spacingAndGlyphs">REVENUE</text>
<text x="233.6" y="691.8" textLength="57.4" lengthAdjust="spacingAndGlyphs">CUSTOMERS</text>
<text x="340.8" y="691.8" textLength="71.5" lengthAdjust="spacingAndGlyphs">COMPETENCIES</text>
</g>

</svg>

<!-- Right panel -->
<svg class="abs" style="left:0;top:0" width="1280" height="720">
  <circle cx="964" cy="420" r="206.1" fill="none" stroke="#d5e0ec" stroke-width="19.3"/>
</svg>
<svg class="abs" style="left:0;top:0" width="1280" height="720">
<defs><filter id="hb" x="-20%" y="-20%" width="140%" height="140%"><feGaussianBlur stdDeviation="1.5"/></filter></defs>
<ellipse cx="963.95" cy="209.3" rx="72.7" ry="68.3" fill="#019fe1"/>
<ellipse cx="963.95" cy="209.3" rx="72.2" ry="67.8" fill="none" stroke="rgba(0,0,0,0.14)" stroke-width="1"/>
<path d="M973.44,146.12 A68.20,63.80 0 0 1 1029.83,225.81" fill="none" stroke="rgba(255,255,255,0.24)" stroke-width="4" stroke-linecap="round" filter="url(#hb)"/>
<path d="M946.30,270.93 A68.20,63.80 0 0 1 895.79,211.53" fill="none" stroke="rgba(255,255,255,0.18)" stroke-width="3.4" stroke-linecap="round" filter="url(#hb)"/>
<ellipse cx="1146.3" cy="315.3" rx="68.1" ry="68.1" fill="#165062"/>
<ellipse cx="1146.3" cy="315.3" rx="67.6" ry="67.6" fill="none" stroke="rgba(0,0,0,0.14)" stroke-width="1"/>
<path d="M1155.15,252.32 A63.60,63.60 0 0 1 1207.73,331.76" fill="none" stroke="rgba(255,255,255,0.24)" stroke-width="4" stroke-linecap="round" filter="url(#hb)"/>
<path d="M1129.84,376.73 A63.60,63.60 0 0 1 1082.74,317.52" fill="none" stroke="rgba(255,255,255,0.18)" stroke-width="3.4" stroke-linecap="round" filter="url(#hb)"/>
<ellipse cx="781.55" cy="315" rx="67.75" ry="67.8" fill="#6390bb"/>
<ellipse cx="781.55" cy="315" rx="67.25" ry="67.3" fill="none" stroke="rgba(0,0,0,0.14)" stroke-width="1"/>
<path d="M790.35,252.32 A63.25,63.30 0 0 1 842.64,331.38" fill="none" stroke="rgba(255,255,255,0.24)" stroke-width="4" stroke-linecap="round" filter="url(#hb)"/>
<path d="M765.18,376.14 A63.25,63.30 0 0 1 718.34,317.21" fill="none" stroke="rgba(255,255,255,0.18)" stroke-width="3.4" stroke-linecap="round" filter="url(#hb)"/>
<ellipse cx="963.8" cy="420.7" rx="97.4" ry="97" fill="#9ce7fe"/>
<ellipse cx="963.8" cy="420.7" rx="96.9" ry="96.5" fill="none" stroke="rgba(0,0,0,0.14)" stroke-width="1"/>
<path d="M976.73,329.10 A92.90,92.50 0 0 1 1053.53,444.64" fill="none" stroke="rgba(255,255,255,0.24)" stroke-width="4" stroke-linecap="round" filter="url(#hb)"/>
<path d="M939.76,510.05 A92.90,92.50 0 0 1 870.96,423.93" fill="none" stroke="rgba(255,255,255,0.18)" stroke-width="3.4" stroke-linecap="round" filter="url(#hb)"/>
<ellipse cx="781.55" cy="525.55" rx="67.75" ry="67.25" fill="#a68a46"/>
<ellipse cx="781.55" cy="525.55" rx="67.25" ry="66.75" fill="none" stroke="rgba(0,0,0,0.14)" stroke-width="1"/>
<path d="M790.35,463.41 A63.25,62.75 0 0 1 842.64,541.79" fill="none" stroke="rgba(255,255,255,0.24)" stroke-width="4" stroke-linecap="round" filter="url(#hb)"/>
<path d="M765.18,586.16 A63.25,62.75 0 0 1 718.34,527.74" fill="none" stroke="rgba(255,255,255,0.18)" stroke-width="3.4" stroke-linecap="round" filter="url(#hb)"/>
<ellipse cx="1146.3" cy="525.85" rx="68.1" ry="67.55" fill="#944068"/>
<ellipse cx="1146.3" cy="525.85" rx="67.6" ry="67.05" fill="none" stroke="rgba(0,0,0,0.14)" stroke-width="1"/>
<path d="M1155.15,463.41 A63.60,63.05 0 0 1 1207.73,542.17" fill="none" stroke="rgba(255,255,255,0.24)" stroke-width="4" stroke-linecap="round" filter="url(#hb)"/>
<path d="M1129.84,586.75 A63.60,63.05 0 0 1 1082.74,528.05" fill="none" stroke="rgba(255,255,255,0.18)" stroke-width="3.4" stroke-linecap="round" filter="url(#hb)"/>
<ellipse cx="964.1" cy="631.1" rx="68.1" ry="67.3" fill="#996293"/>
<ellipse cx="964.1" cy="631.1" rx="67.6" ry="66.8" fill="none" stroke="rgba(0,0,0,0.14)" stroke-width="1"/>
<path d="M972.95,568.91 A63.60,62.80 0 0 1 1025.53,647.35" fill="none" stroke="rgba(255,255,255,0.24)" stroke-width="4" stroke-linecap="round" filter="url(#hb)"/>
<path d="M947.64,691.76 A63.60,62.80 0 0 1 900.54,633.29" fill="none" stroke="rgba(255,255,255,0.18)" stroke-width="3.4" stroke-linecap="round" filter="url(#hb)"/>
</svg>
<div class="ct" style="left:964px;top:190px;letter-spacing:0.3px">Risk<br>Management</div>
<div class="ct" style="left:1146.3px;top:305px;letter-spacing:0.1px">Valuation</div>
<div class="ct" style="left:781.6px;top:285px">Informed<br>Decision<br>Making</div>
<div class="ct" style="left:963.8px;top:392px;font-size:23.5px;line-height:29px;letter-spacing:0"><span style="letter-spacing:-0.75px">Uses of</span><br>Cost Model</div>
<div class="ct" style="left:781.5px;top:506px">Raising<br>Capital</div>
<div class="ct" style="left:1146.3px;top:506px">Mergers and<br>Acquisitions</div>
<div class="ct" style="left:964.1px;top:602px">Budgeting<br>and<br>Forecasting</div>
<!-- imarc logo -->
<svg class="abs" style="left:1070px;top:650px" width="200" height="60" viewBox="1070 650 200 60">
  <g fill="none" stroke="#1ca0df" stroke-width="6">
    <path d="M1086.3,679.2 L1086.3,701.9"/>
    <path d="M1094.6,701.9 L1094.6,689 A9.2,6.8 0 0 1 1113,689 L1113,701.9 M1113,689 A9.05,6.8 0 0 1 1131.1,689 L1131.1,701.9"/>
    <circle cx="1145.3" cy="690.6" r="8.3"/>
    <path d="M1156.4,679.2 L1156.4,701.9"/>
    <path d="M1164.6,701.9 L1164.6,690 Q1164.6,682.3 1172,682.3 Q1177.5,682.3 1179.8,686"/>
    <path d="M1200.4,684.6 A8.3,8.3 0 1 0 1200.4,696.6"/>
  </g>
  <rect x="1082.6" y="679.2" width="4" height="3.3" fill="#1ca0df"/>
  <circle cx="1087.5" cy="664.5" r="3.6" fill="#1ca0df"/>
  <rect x="1205.3" y="678.7" width="2.6" height="22.7" fill="#111"/>
  <text x="1213" y="687.6" font-family="Liberation Sans" font-weight="bold" font-size="8.2" fill="#1a1a1a" textLength="45.3" lengthAdjust="spacingAndGlyphs">IMPACTFUL</text>
  <text x="1213" y="697" font-family="Liberation Sans" font-weight="bold" font-size="8.2" fill="#1a1a1a" textLength="38" lengthAdjust="spacingAndGlyphs">INSIGHTS</text>
</svg>


</body></html>
